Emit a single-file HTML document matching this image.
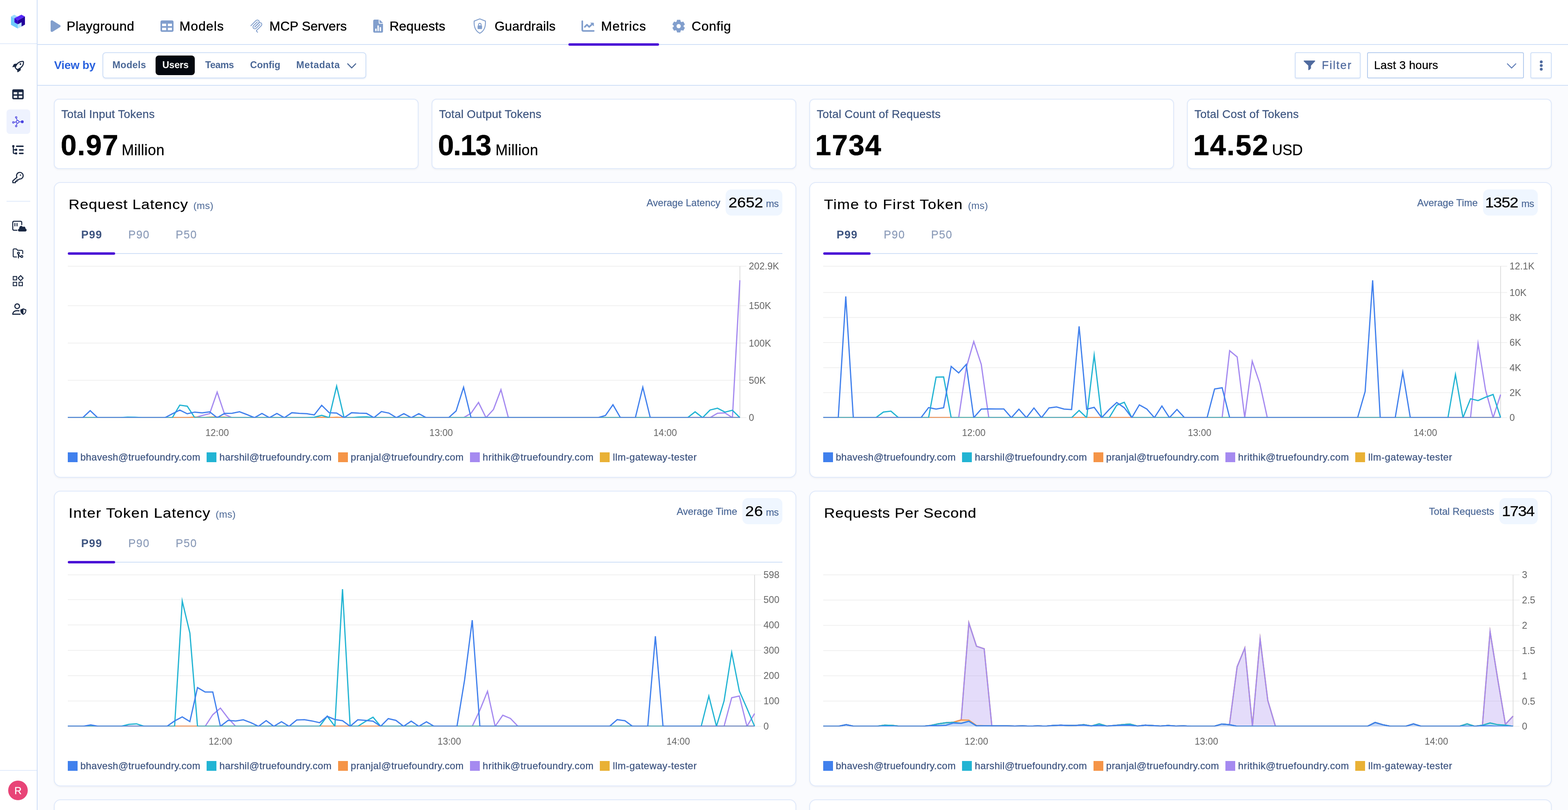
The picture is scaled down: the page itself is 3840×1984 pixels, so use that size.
<!DOCTYPE html><html lang="en"><head><meta charset="utf-8"><title>Metrics</title><style>
*{box-sizing:border-box;margin:0;padding:0}
html,body{width:3840px;height:1984px;overflow:hidden;background:#fff}
body{font-family:"Liberation Sans",sans-serif;position:relative;-webkit-font-smoothing:antialiased}
.t{position:absolute;line-height:1;white-space:pre}
.b{position:absolute}
.m{-webkit-text-stroke:0.3px currentColor}
.card{position:absolute;background:#fff;border:2px solid #dfe9fb;box-shadow:0 2px 5px rgba(0,0,0,.045),0 0 3px rgba(0,0,0,.02)}
svg{position:absolute;overflow:visible}
svg text{font-family:"Liberation Sans",sans-serif}
</style></head><body>
<div class="b" style="left:92px;top:210px;width:3748px;height:1774px;background:#fafbfe"></div>
<div class="b" style="left:0px;top:0px;width:90px;height:1984px;background:#fff"></div>
<div class="b" style="left:90px;top:0px;width:2px;height:1984px;background:#cfdff7"></div>
<div class="b" style="left:0px;top:106px;width:90px;height:2px;background:#e1ebfb"></div>
<div class="b" style="left:0px;top:1886px;width:90px;height:2px;background:#e1ebfb"></div>
<div class="b" style="left:16px;top:491.5px;width:58px;height:2px;background:#e1ebfb"></div>
<div class="b" style="left:92px;top:108px;width:3748px;height:2px;background:#cfdff7"></div>
<div class="b" style="left:92px;top:208px;width:3748px;height:2px;background:#cfdff7"></div>
<svg style="left:0;top:0" width="3840" height="1984" viewBox="0 0 3840 1984"><polygon points="26.9,40.4 34.9,35.9 43.0,40.4 35.3,44.8" fill="#9edcfc"/><polygon points="26.9,40.4 35.3,44.8 35.3,54.7 43.7,59.6 43.7,70.1 26.9,60.7" fill="#6ecbfb"/><polygon points="43.7,59.6 52.8,54.6 52.8,64.9 43.7,70.1" fill="#b8e4fd"/><polygon points="35.3,44.6 52.4,35.9 61.1,40.4 43.7,50.2" fill="#5528f8"/><polygon points="35.3,44.6 43.7,50.2 43.7,59.6 35.3,54.7" fill="#2a00c8"/><polygon points="43.7,50.2 61.1,40.4 61.1,60.3 52.8,64.9 52.8,54.6 43.7,59.6" fill="#21009a"/></svg>
<div class="b" style="left:16px;top:268px;width:58px;height:60px;background:#eef2fe;border-radius:8px"></div>
<svg style="left:0;top:0" width="3840" height="1984" viewBox="0 0 3840 1984"><path d="M30,164.4 L33.3,158.2 Q34.4,156.4 36.6,156.2 L42.2,155.8 L38.3,163.8 Z" fill="#1a2842"/><path d="M42.3,171 L50.4,165.4 L50.8,170.6 Q50.8,172 49.8,172.8 L44.2,176.8 Q42.6,177.4 42.3,175.6 Z" fill="#1a2842"/><path d="M37.3,165.6 C40,156.800 46,150.900 55.3,150.300 Q57.500,150.200 57.500,152.400 C57.600,160.200 52,166.600 41.800,170.600 Z" fill="#fff" stroke="#1a2842" stroke-width="2.6" stroke-linejoin="round"/><circle cx="50" cy="156.9" r="2.1" fill="#1a2842"/></svg>
<svg style="left:0;top:0" width="3840" height="1984" viewBox="0 0 3840 1984"><path transform="translate(30,217) scale(0.0546875)" fill-rule="evenodd" fill="#1a2842" d="M64 32H448a64 64 0 0 1 64 64V416a64 64 0 0 1-64 64H64a64 64 0 0 1-64-64V96A64 64 0 0 1 64 32ZM64 160V256H224V160ZM288 160V256H448V160ZM64 320V416H224V320ZM288 320V416H448V320Z"/></svg>
<svg style="left:0;top:0" width="3840" height="1984" viewBox="0 0 3840 1984"><g stroke="#4a43e0" stroke-width="1.7" fill="none" stroke-linecap="round"><line x1="40.3" y1="289.6" x2="41.9" y2="294.6"/><line x1="34.8" y1="299.4" x2="39.2" y2="298.8"/><line x1="40.4" y1="306.6" x2="41.8" y2="302.2"/><line x1="47" y1="298.3" x2="52" y2="298.3"/></g><circle cx="43.1" cy="298.3" r="3.4" fill="none" stroke="#4a43e0" stroke-width="1.8"/><circle cx="39.6" cy="287.4" r="1.9" fill="none" stroke="#4a43e0" stroke-width="1.6"/><circle cx="32.6" cy="299.7" r="1.9" fill="none" stroke="#4a43e0" stroke-width="1.6"/><circle cx="39.6" cy="308.7" r="1.9" fill="none" stroke="#4a43e0" stroke-width="1.6"/><circle cx="54.5" cy="298.2" r="3.5" fill="#4a43e0"/></svg>
<svg style="left:0;top:0" width="3840" height="1984" viewBox="0 0 3840 1984"><rect x="30" y="355.5" width="5.3" height="5.3" rx="1.3" fill="#1a2842"/><rect x="39.1" y="356.5" width="18.9" height="3.5" rx="1.75" fill="#1a2842"/><rect x="37" y="364.2" width="5.1" height="5.3" rx="1.3" fill="#1a2842"/><rect x="46.1" y="365.4" width="11.9" height="3.5" rx="1.75" fill="#1a2842"/><rect x="37" y="373.2" width="5.1" height="5.1" rx="1.3" fill="#1a2842"/><rect x="46.1" y="374" width="11.9" height="3.5" rx="1.75" fill="#1a2842"/><path d="M32.65,359 V373.6 Q32.65,375.8 34.9,375.8 H38 M32.65,366.9 H38" fill="none" stroke="#1a2842" stroke-width="2.7"/></svg>
<svg style="left:0;top:0" width="3840" height="1984" viewBox="0 0 3840 1984"><path d="M41.45,434.20 A8.1,8.1 0 1 1 47.47,438.42 L45.2,440.7 L41.6,440.7 L41.6,444.2 L37.8,444.2 L37.8,447.5 L31.4,447.5 L31.4,442.9 Z" fill="none" stroke="#1a2842" stroke-width="2.6" stroke-linejoin="round"/><circle cx="50.1" cy="428.9" r="1.7" fill="#1a2842"/></svg>
<svg style="left:0;top:0" width="3840" height="1984" viewBox="0 0 3840 1984"><path d="M42.5,564 H34.4 Q31.25,564 31.25,560.8 V545.1 Q31.25,541.95 34.4,541.95 H50.1 Q53.25,541.95 53.25,545.1 V551.2" fill="none" stroke="#1a2842" stroke-width="2.5"/><rect x="35.3" y="546" width="2.4" height="8.4" rx="1.2" fill="#1a2842"/><rect x="40.5" y="546" width="2.4" height="8.4" rx="1.2" fill="#1a2842"/><path d="M47.4,567 C45.3,567 44,565.5 44,563.7 C44,561.9 45.2,560.6 46.9,560.3 C46.9,556.5 48.9,553.3 51.8,553.3 C53.6,553.3 55.1,554.3 56,555.9 C56.7,555.3 57.6,555 58.5,555 C60.6,555 62.3,556.7 62.3,558.8 C62.3,559.1 62.3,559.4 62.2,559.7 C64,560.3 65.2,561.8 65.2,563.6 C65.2,565.5 63.7,567 61.8,567 Z" fill="#1a2842"/></svg>
<svg style="left:0;top:0" width="3840" height="1984" viewBox="0 0 3840 1984"><g transform="translate(30,606.1) scale(1.1667)" fill="none" stroke="#1a2842" stroke-width="2" stroke-linecap="round" stroke-linejoin="round"><path d="M9 20H4a2 2 0 0 1-2-2V5a2 2 0 0 1 2-2h3.900a2 2 0 0 1 1.690.900l.810 1.200a2 2 0 0 0 1.670.900H20a2 2 0 0 1 2 2v5"/><circle cx="13" cy="12" r="2"/><path d="M18 19c-2.800 0-5-2.200-5-5v8"/><circle cx="20" cy="19" r="2"/></g></svg>
<svg style="left:0;top:0" width="3840" height="1984" viewBox="0 0 3840 1984"><rect x="32.4" y="677.2" width="8.399999999999999" height="8.399999999999999" fill="none" stroke="#1a2842" stroke-width="2.2"/><rect x="32.4" y="691.4" width="8.399999999999999" height="8.399999999999999" fill="none" stroke="#1a2842" stroke-width="2.2"/><rect x="46.5" y="691.4" width="8.399999999999999" height="8.399999999999999" fill="none" stroke="#1a2842" stroke-width="2.2"/><path d="M50.5,675.2 L56.5,681.3 L50.5,687.4 L44.4,681.3 Z" fill="none" stroke="#1a2842" stroke-width="2.4" stroke-linejoin="miter"/></svg>
<svg style="left:0;top:0" width="3840" height="1984" viewBox="0 0 3840 1984"><circle cx="42.1" cy="750.1" r="5.7" fill="none" stroke="#1a2842" stroke-width="2.7"/><path d="M47.6,761.6 C46,761 44.2,760.8 42,760.8 C35.6,760.8 31.6,764.4 31.2,769.7 H50.2" fill="none" stroke="#1a2842" stroke-width="2.7" stroke-linejoin="round"/><path d="M57.1,755.2 L64.4,758.3 C64.9,764.6 62.4,768.9 57.1,771.2 C51.8,768.9 49.3,764.6 49.8,758.3 Z" fill="#1a2842"/><path d="M57.3,758 L62.2,760.1 C62.3,763.8 60.6,766.6 57.3,768.4 Z" fill="#fff"/></svg>
<div class="b" style="left:20px;top:1912px;width:48px;height:48px;background:#e84477;border-radius:50%"></div>
<div class="t" style="left:44.0px;top:1924.6px;font-size:24.5px;color:#fff;transform:translateX(-50%);-webkit-text-stroke:0.4px #fff;">R</div>
<svg style="left:0;top:0" width="3840" height="1984" viewBox="0 0 3840 1984"><path transform="translate(124,47.8) scale(0.0633)" fill="#829fcd" d="M73 39c-14.800-9.100-33.400-9.400-48.500-.9S0 62.600 0 80V432c0 17.400 9.400 33.400 24.500 41.900s33.700 8.100 48.500-.9L361 297c14.300-8.700 23-24.200 23-41s-8.700-32.200-23-41L73 39z"/></svg>
<div class="t" style="left:163.2px;top:47.9px;font-size:32px;color:#000;letter-spacing:0.38px;-webkit-text-stroke:0.45px #000;">Playground</div>
<svg style="left:0;top:0" width="3840" height="1984" viewBox="0 0 3840 1984"><path transform="translate(393,48) scale(0.0625)" fill-rule="evenodd" fill="#829fcd" d="M64 32H448a64 64 0 0 1 64 64V416a64 64 0 0 1-64 64H64a64 64 0 0 1-64-64V96A64 64 0 0 1 64 32ZM64 160V256H224V160ZM288 160V256H448V160ZM64 320V416H224V320ZM288 320V416H448V320Z"/></svg>
<div class="t" style="left:439.6px;top:47.9px;font-size:32px;color:#000;letter-spacing:1.0px;-webkit-text-stroke:0.45px #000;">Models</div>
<svg style="left:0;top:0" width="3840" height="1984" viewBox="0 0 3840 1984"><g transform="translate(609.75,44.7) scale(0.1866)" fill="none" stroke="#829fcd" stroke-width="11.5" stroke-linecap="round"><path d="M25 97.8528L92.8823 29.9706C102.255 20.598 117.451 20.598 126.823 29.9706C136.196 39.3431 136.196 54.5391 126.823 63.9117L75.5581 115.177"/><path d="M76.2653 114.47L126.823 63.9117C136.196 54.5391 151.392 54.5391 160.765 63.9117L161.118 64.2652C170.491 73.6378 170.491 88.8338 161.118 98.2063L99.7248 159.6C96.6006 162.724 96.6006 167.789 99.7248 170.913L112.331 183.52"/><path d="M109.853 46.9411L59.6482 97.1457C50.2757 106.518 50.2757 121.714 59.6482 131.087C69.0208 140.459 84.2168 140.459 93.5894 131.087L143.794 80.8822"/></g></svg>
<div class="t" style="left:659.8px;top:47.9px;font-size:32px;color:#000;letter-spacing:-0.02px;-webkit-text-stroke:0.45px #000;">MCP Servers</div>
<svg style="left:0;top:0" width="3840" height="1984" viewBox="0 0 3840 1984"><path d="M917.5,47.9 H927.5 V55.400 Q927.5,58.300 930.400,58.300 H938 V76.400 Q938,79.900 934.500,79.900 H917.500 Q914,79.900 914,76.400 V51.400 Q914,47.900 917.5,47.900 Z" fill="#829fcd"/><path d="M929.500,47.900 L938,56.300 H931 Q929.500,56.300 929.500,54.800 Z" fill="#829fcd"/><rect x="918.9" y="69.8" width="3.4" height="6.6" rx="1.5" fill="#fff"/><rect x="924.3" y="62.1" width="3.4" height="14.3" rx="1.5" fill="#fff"/><rect x="929.8" y="66.3" width="3.4" height="10.1" rx="1.5" fill="#fff"/></svg>
<div class="t" style="left:953.9px;top:47.9px;font-size:32px;color:#000;letter-spacing:0.22px;-webkit-text-stroke:0.45px #000;">Requests</div>
<svg style="left:0;top:0" width="3840" height="1984" viewBox="0 0 3840 1984"><path d="M1175,46.300 L1188.800,51.600 C1189.600,65.200 1185.300,76.200 1175,81.500 C1164.700,76.200 1160.400,65.200 1161.200,51.600 Z" fill="none" stroke="#829fcd" stroke-width="2.3" stroke-linejoin="round"/><rect x="1169.6" y="62.3" width="11" height="9" rx="1.5" fill="#829fcd"/><path d="M1171.900,62.800 V60.400 A3.200,3.200 0 0 1 1178.300,60.400 V62.800" fill="none" stroke="#829fcd" stroke-width="2.2"/></svg>
<div class="t" style="left:1211.2px;top:47.9px;font-size:32px;color:#000;letter-spacing:0.2px;-webkit-text-stroke:0.45px #000;">Guardrails</div>
<svg style="left:0;top:0" width="3840" height="1984" viewBox="0 0 3840 1984"><path d="M1426,52 V72.800 Q1426,75.800 1429,75.800 H1454" fill="none" stroke="#829fcd" stroke-width="4" stroke-linecap="round"/><path d="M1432.200,65.800 L1437.600,60.600 L1442.800,65.900 L1450,59.200" fill="none" stroke="#829fcd" stroke-width="4.1" stroke-linecap="round" stroke-linejoin="round"/><path d="M1446,56 H1453 Q1454,56 1454,57 V64 Z" fill="#829fcd" stroke="#829fcd" stroke-width="0.800" stroke-linejoin="round"/></svg>
<div class="t" style="left:1472.0px;top:47.9px;font-size:32px;color:#000;letter-spacing:1.1px;-webkit-text-stroke:0.45px #000;">Metrics</div>
<svg style="left:0;top:0" width="3840" height="1984" viewBox="0 0 3840 1984"><path d="M1658.35,53.41 L1658.72,49.77 L1665.28,49.77 L1665.65,53.41 L1669.35,55.55 L1672.68,54.04 L1675.96,59.73 L1672.99,61.86 L1672.99,66.14 L1675.96,68.27 L1672.68,73.96 L1669.35,72.45 L1665.65,74.59 L1665.28,78.23 L1658.72,78.23 L1658.35,74.59 L1654.65,72.45 L1651.32,73.96 L1648.04,68.27 L1651.01,66.14 L1651.01,61.86 L1648.04,59.73 L1651.32,54.04 L1654.65,55.55Z M1655.6,64 a6.4,6.4 0 1 0 12.8,0 a6.4,6.4 0 1 0 -12.8,0Z" fill="#829fcd" fill-rule="evenodd" stroke="#829fcd" stroke-width="2.400" stroke-linejoin="round"/></svg>
<div class="t" style="left:1693.8px;top:47.9px;font-size:32px;color:#000;letter-spacing:0.75px;-webkit-text-stroke:0.45px #000;">Config</div>
<div class="b" style="left:1392px;top:106px;width:222px;height:6px;background:#4a0fd6;border-radius:3px"></div>
<div class="t" style="left:132.4px;top:145.9px;font-size:28px;color:#2a62de;font-weight:700;letter-spacing:-0.33px;">View by</div>
<div class="b" style="left:251px;top:128px;width:646px;height:64px;background:#fff;border:2px solid #cfdff7;border-radius:8px;box-shadow:0 2px 3px rgba(150,180,230,.2)"></div>
<div class="b" style="left:381px;top:136px;width:96px;height:48px;background:#04080f;border-radius:8px"></div>
<div class="t" style="left:275.2px;top:148.4px;font-size:23.4px;color:#4a6796;font-weight:700;letter-spacing:0.35px;">Models</div>
<div class="t" style="left:397.6px;top:148.4px;font-size:23.4px;color:#fff;font-weight:700;letter-spacing:-0.15px;">Users</div>
<div class="t" style="left:502.6px;top:148.4px;font-size:23.4px;color:#4a6796;font-weight:700;letter-spacing:-0.5px;">Teams</div>
<div class="t" style="left:612.6px;top:148.4px;font-size:23.4px;color:#4a6796;font-weight:700;">Config</div>
<div class="t" style="left:725.4px;top:148.4px;font-size:23.4px;color:#4a6796;font-weight:700;letter-spacing:0.75px;">Metadata</div>
<svg style="left:0;top:0" width="3840" height="1984" viewBox="0 0 3840 1984"><path d="M851.6,156.3 L861.3,166.300 L871,156.3" fill="none" stroke="#4a6796" stroke-width="2.600" stroke-linecap="round" stroke-linejoin="round"/></svg>
<div class="b" style="left:3171px;top:128px;width:161px;height:64px;background:#fff;border:2px solid #cfdff7;border-radius:4px;box-shadow:0 2px 3px rgba(150,180,230,.2)"></div>
<svg style="left:0;top:0" width="3840" height="1984" viewBox="0 0 3840 1984"><path d="M3194.200,148.200 H3219.300 Q3221.800,148.200 3220.300,150.500 L3210.600,160.800 V166.400 Q3210.600,167.800 3209.500,168.500 L3206.200,171.400 Q3204,172.600 3204,170.600 V160.800 L3193.200,150.500 Q3191.700,148.200 3194.200,148.200 Z" fill="#4f6a9e"/></svg>
<div class="t" style="left:3237.0px;top:145.6px;font-size:28px;color:#4f6a9e;letter-spacing:2.0px;-webkit-text-stroke:0.3px #4f6a9e;">Filter</div>
<div class="b" style="left:3348px;top:128px;width:384px;height:64px;background:#fff;border:2px solid #b4ccee;border-radius:4px"></div>
<div class="t" style="left:3365.0px;top:145.6px;font-size:28px;color:#000;letter-spacing:0.245px;-webkit-text-stroke:0.4px #000;">Last 3 hours</div>
<svg style="left:0;top:0" width="3840" height="1984" viewBox="0 0 3840 1984"><path d="M3691.600,156.300 L3701.900,166.600 L3712.200,156.300" fill="none" stroke="#5b7ab5" stroke-width="2.300" stroke-linecap="round" stroke-linejoin="round"/></svg>
<div class="b" style="left:3748px;top:128px;width:52px;height:64px;background:#fff;border:2px solid #cfdff7;border-radius:4px;box-shadow:0 2px 3px rgba(150,180,230,.2)"></div>
<div class="b" style="left:3770.5px;top:147.5px;width:7px;height:7px;background:#4f6a9e;border-radius:50%"></div>
<div class="b" style="left:3770.5px;top:156.9px;width:7px;height:7px;background:#4f6a9e;border-radius:50%"></div>
<div class="b" style="left:3770.5px;top:166.3px;width:7px;height:7px;background:#4f6a9e;border-radius:50%"></div>
<div class="card" style="left:132px;top:242px;width:893px;height:172px;border-radius:12px"></div>
<div class="t" style="left:150.2px;top:265.6px;font-size:28px;color:#3e5680;letter-spacing:0.2px;-webkit-text-stroke:0.3px #3e5680;">Total Input Tokens</div>
<div class="t" style="left:148.7px;top:320.9px;font-size:70px;color:#000;font-weight:700;letter-spacing:1.57px;-webkit-text-stroke:0.6px #000;">0.97</div>
<div class="t" style="left:298.0px;top:349.7px;font-size:36px;color:#000;letter-spacing:0.4px;-webkit-text-stroke:0.3px #000;">Million</div>
<div class="card" style="left:1057px;top:242px;width:893px;height:172px;border-radius:12px"></div>
<div class="t" style="left:1075.2px;top:265.6px;font-size:28px;color:#3e5680;letter-spacing:0.2px;-webkit-text-stroke:0.3px #3e5680;">Total Output Tokens</div>
<div class="t" style="left:1072.8px;top:320.9px;font-size:70px;color:#000;font-weight:700;letter-spacing:-1.77px;-webkit-text-stroke:0.6px #000;">0.13</div>
<div class="t" style="left:1213.4px;top:349.7px;font-size:36px;color:#000;letter-spacing:0.4px;-webkit-text-stroke:0.3px #000;">Million</div>
<div class="card" style="left:1982px;top:242px;width:893px;height:172px;border-radius:12px"></div>
<div class="t" style="left:2000.2px;top:265.6px;font-size:28px;color:#3e5680;letter-spacing:0.2px;-webkit-text-stroke:0.3px #3e5680;">Total Count of Requests</div>
<div class="t" style="left:1996.5px;top:320.9px;font-size:70px;color:#000;font-weight:700;letter-spacing:1.83px;-webkit-text-stroke:0.6px #000;">1734</div>
<div class="card" style="left:2907px;top:242px;width:893px;height:172px;border-radius:12px"></div>
<div class="t" style="left:2925.2px;top:265.6px;font-size:28px;color:#3e5680;letter-spacing:0.2px;-webkit-text-stroke:0.3px #3e5680;">Total Cost of Tokens</div>
<div class="t" style="left:2922.2px;top:320.9px;font-size:70px;color:#000;font-weight:700;letter-spacing:2.1px;-webkit-text-stroke:0.6px #000;">14.52</div>
<div class="t" style="left:3115.0px;top:349.7px;font-size:36px;color:#000;letter-spacing:-0.2px;-webkit-text-stroke:0.3px #000;">USD</div>
<div class="card" style="left:132px;top:446px;width:1818px;height:724px;border-radius:16px"></div><div class="t" style="left:168px;top:483.2px;font-size:34px;color:#000;letter-spacing:0.91px;-webkit-text-stroke:0.25px #000;transform:scaleX(1.09);transform-origin:0 0">Request Latency</div><div class="t" style="left:473.5px;top:491.7px;font-size:24px;color:#4a6796;letter-spacing:0.3px;">(ms)</div><div class="b" style="left:1777px;top:464.3px;width:139px;height:63.4px;background:#eff6ff;border-radius:14px"></div><div class="t m" style="left:1783.6px;top:477.9px;font-size:35px;color:#000;letter-spacing:-0.2px;transform:scaleX(1.1);transform-origin:0 0">2652</div><div class="t" style="left:1875.7px;top:487.2px;font-size:24px;color:#4a6796;letter-spacing:-0.4px;-webkit-text-stroke:0.25px #4a6796;">ms</div><div class="t m" style="right:2076px;top:485.4px;font-size:24px;color:#4a6796;letter-spacing:0.05px">Average Latency</div><div class="b" style="left:166px;top:620px;width:1750px;height:2px;background:#cfdff7"></div><div class="b" style="left:166px;top:618px;width:116px;height:6px;background:#4a0fd6;border-radius:3px"></div><div class="t" style="left:224.6px;top:562.1px;font-size:27px;color:#3d5480;font-weight:700;letter-spacing:1.2px;transform:translateX(-50%);">P99</div><div class="t" style="left:340.6px;top:562.1px;font-size:27px;color:#8c9cb9;letter-spacing:1.5px;transform:translateX(-50%);-webkit-text-stroke:0.3px #8c9cb9;">P90</div><div class="t" style="left:456.6px;top:562.1px;font-size:27px;color:#8c9cb9;letter-spacing:1.5px;transform:translateX(-50%);-webkit-text-stroke:0.3px #8c9cb9;">P50</div><svg style="left:132px;top:447px" width="1818" height="722" viewBox="0 0 1818 722"><line x1="34.0" y1="576.0" x2="1696.0" y2="576.0" stroke="#f0f0f0" stroke-width="2"/><line x1="34.0" y1="484.6" x2="1696.0" y2="484.6" stroke="#f0f0f0" stroke-width="2"/><line x1="34.0" y1="393.2" x2="1696.0" y2="393.2" stroke="#f0f0f0" stroke-width="2"/><line x1="34.0" y1="301.7" x2="1696.0" y2="301.7" stroke="#f0f0f0" stroke-width="2"/><line x1="34.0" y1="205.0" x2="1696.0" y2="205.0" stroke="#f0f0f0" stroke-width="2"/><line x1="1680.0" y1="205.0" x2="1680.0" y2="576.0" stroke="#dedede" stroke-width="2"/><text x="1701.8" y="584.3" font-size="23.4" fill="#666">0</text><text x="1701.8" y="492.9" font-size="23.4" fill="#666">50K</text><text x="1701.8" y="401.5" font-size="23.4" fill="#666">100K</text><text x="1701.8" y="310.0" font-size="23.4" fill="#666">150K</text><text x="1701.8" y="213.3" font-size="23.4" fill="#666">202.9K</text><text x="399.8" y="620.5" font-size="23" fill="#666" text-anchor="middle">12:00</text><text x="948.4" y="620.5" font-size="23" fill="#666" text-anchor="middle">13:00</text><text x="1497.1" y="620.5" font-size="23" fill="#666" text-anchor="middle">14:00</text><clipPath id="cp_c1"><rect x="32.0" y="201.0" width="1649.5" height="375.3"/></clipPath><g clip-path="url(#cp_c1)"><polyline points="34.0,576.0 52.3,576.0 70.6,576.0 88.9,576.0 107.2,576.0 125.4,576.0 143.7,576.0 162.0,576.0 180.3,576.0 198.6,576.0 216.9,576.0 235.2,576.0 253.5,576.0 271.8,576.0 290.0,576.0 308.3,576.0 326.6,576.0 344.9,576.0 363.2,576.0 381.5,576.0 399.8,576.0 418.1,576.0 436.4,576.0 454.6,576.0 472.9,576.0 491.2,576.0 509.5,576.0 527.8,576.0 546.1,576.0 564.4,576.0 582.7,576.0 601.0,576.0 619.2,576.0 637.5,576.0 655.8,576.0 674.1,576.0 692.4,576.0 710.7,576.0 729.0,576.0 747.3,576.0 765.6,576.0 783.8,576.0 802.1,576.0 820.4,576.0 838.7,576.0 857.0,576.0 875.3,576.0 893.6,576.0 911.9,576.0 930.2,576.0 948.4,576.0 966.7,576.0 985.0,576.0 1003.3,576.0 1021.6,576.0 1039.9,576.0 1058.2,576.0 1076.5,576.0 1094.8,576.0 1113.0,576.0 1131.3,576.0 1149.6,576.0 1167.9,576.0 1186.2,576.0 1204.5,576.0 1222.8,576.0 1241.1,576.0 1259.4,576.0 1277.6,576.0 1295.9,576.0 1314.2,576.0 1332.5,576.0 1350.8,576.0 1369.1,576.0 1387.4,576.0 1405.7,576.0 1424.0,576.0 1442.2,576.0 1460.5,576.0 1478.8,576.0 1497.1,576.0 1515.4,576.0 1533.7,576.0 1552.0,576.0 1570.3,576.0 1588.6,576.0 1606.8,576.0 1625.1,576.0 1643.4,576.0 1661.7,576.0 1680.0,576.0" fill="none" stroke="#e9b135" stroke-width="3" stroke-linejoin="miter" stroke-miterlimit="10"/><polyline points="34.0,576.0 52.3,576.0 70.6,576.0 88.9,576.0 107.2,576.0 125.4,576.0 143.7,576.0 162.0,576.0 180.3,576.0 198.6,576.0 216.9,576.0 235.2,576.0 253.5,576.0 271.8,576.0 290.0,576.0 308.3,576.0 326.6,576.0 344.9,576.0 363.2,570.8 381.5,566.1 399.8,513.5 418.1,568.0 436.4,576.0 454.6,576.0 472.9,576.0 491.2,576.0 509.5,576.0 527.8,576.0 546.1,576.0 564.4,576.0 582.7,576.0 601.0,576.0 619.2,576.0 637.5,576.0 655.8,576.0 674.1,576.0 692.4,576.0 710.7,576.0 729.0,576.0 747.3,576.0 765.6,576.0 783.8,576.0 802.1,576.0 820.4,576.0 838.7,576.0 857.0,576.0 875.3,576.0 893.6,576.0 911.9,576.0 930.2,576.0 948.4,576.0 966.7,576.0 985.0,576.0 1003.3,576.0 1021.6,565.2 1039.9,538.8 1058.2,576.0 1076.5,555.9 1094.8,507.4 1113.0,576.0 1131.3,576.0 1149.6,576.0 1167.9,576.0 1186.2,576.0 1204.5,576.0 1222.8,576.0 1241.1,576.0 1259.4,576.0 1277.6,576.0 1295.9,576.0 1314.2,576.0 1332.5,576.0 1350.8,576.0 1369.1,576.0 1387.4,576.0 1405.7,576.0 1424.0,576.0 1442.2,576.0 1460.5,576.0 1478.8,576.0 1497.1,576.0 1515.4,576.0 1533.7,576.0 1552.0,576.0 1570.3,576.0 1588.6,576.0 1606.8,576.0 1625.1,565.2 1643.4,564.3 1661.7,576.0 1680.0,239.3" fill="none" stroke="#a58af0" stroke-width="3" stroke-linejoin="miter" stroke-miterlimit="10"/><polyline points="34.0,576.0 52.3,576.0 70.6,576.0 88.9,576.0 107.2,576.0 125.4,576.0 143.7,576.0 162.0,576.0 180.3,576.0 198.6,576.0 216.9,576.0 235.2,576.0 253.5,576.0 271.8,576.0 290.0,576.0 308.3,576.0 326.6,576.0 344.9,574.5 363.2,576.0 381.5,574.8 399.8,574.5 418.1,574.8 436.4,576.0 454.6,576.0 472.9,576.0 491.2,576.0 509.5,576.0 527.8,576.0 546.1,576.0 564.4,576.0 582.7,576.0 601.0,576.0 619.2,576.0 637.5,576.0 655.8,575.0 674.1,576.0 692.4,575.0 710.7,576.0 729.0,576.0 747.3,575.0 765.6,574.8 783.8,576.0 802.1,576.0 820.4,576.0 838.7,576.0 857.0,576.0 875.3,576.0 893.6,576.0 911.9,576.0 930.2,576.0 948.4,576.0 966.7,576.0 985.0,576.0 1003.3,576.0 1021.6,576.0 1039.9,576.0 1058.2,576.0 1076.5,576.0 1094.8,576.0 1113.0,576.0 1131.3,576.0 1149.6,576.0 1167.9,576.0 1186.2,576.0 1204.5,576.0 1222.8,576.0 1241.1,576.0 1259.4,576.0 1277.6,576.0 1295.9,576.0 1314.2,576.0 1332.5,576.0 1350.8,576.0 1369.1,576.0 1387.4,576.0 1405.7,576.0 1424.0,576.0 1442.2,576.0 1460.5,576.0 1478.8,576.0 1497.1,576.0 1515.4,576.0 1533.7,576.0 1552.0,576.0 1570.3,576.0 1588.6,576.0 1606.8,576.0 1625.1,576.0 1643.4,576.0 1661.7,576.0 1680.0,576.0" fill="none" stroke="#f59447" stroke-width="3" stroke-linejoin="miter" stroke-miterlimit="10"/><polyline points="34.0,576.0 52.3,576.0 70.6,576.0 88.9,576.0 107.2,576.0 125.4,576.0 143.7,576.0 162.0,576.0 180.3,574.8 198.6,575.0 216.9,576.0 235.2,576.0 253.5,576.0 271.8,576.0 290.0,576.0 308.3,545.3 326.6,547.9 344.9,576.0 363.2,576.0 381.5,576.0 399.8,576.0 418.1,576.0 436.4,576.0 454.6,576.0 472.9,576.0 491.2,576.0 509.5,576.0 527.8,576.0 546.1,576.0 564.4,576.0 582.7,576.0 601.0,576.0 619.2,576.0 637.5,575.0 655.8,570.2 674.1,576.0 692.4,498.8 710.7,576.0 729.0,576.0 747.3,574.5 765.6,574.1 783.8,576.0 802.1,576.0 820.4,576.0 838.7,576.0 857.0,576.0 875.3,576.0 893.6,576.0 911.9,576.0 930.2,576.0 948.4,576.0 966.7,576.0 985.0,576.0 1003.3,576.0 1021.6,576.0 1039.9,576.0 1058.2,576.0 1076.5,576.0 1094.8,576.0 1113.0,576.0 1131.3,576.0 1149.6,576.0 1167.9,576.0 1186.2,576.0 1204.5,576.0 1222.8,576.0 1241.1,576.0 1259.4,576.0 1277.6,576.0 1295.9,576.0 1314.2,576.0 1332.5,576.0 1350.8,576.0 1369.1,576.0 1387.4,576.0 1405.7,576.0 1424.0,576.0 1442.2,576.0 1460.5,576.0 1478.8,576.0 1497.1,576.0 1515.4,576.0 1533.7,576.0 1552.0,576.0 1570.3,561.7 1588.6,576.0 1606.8,557.4 1625.1,552.9 1643.4,562.4 1661.7,557.9 1680.0,576.0" fill="none" stroke="#22b4d3" stroke-width="3" stroke-linejoin="miter" stroke-miterlimit="10"/><polyline points="34.0,576.0 52.3,576.0 70.6,576.0 88.9,558.9 107.2,576.0 125.4,576.0 143.7,576.0 162.0,576.0 180.3,576.0 198.6,576.0 216.9,576.0 235.2,576.0 253.5,576.0 271.8,576.0 290.0,566.7 308.3,557.4 326.6,566.5 344.9,562.4 363.2,564.3 381.5,561.8 399.8,576.0 418.1,565.6 436.4,565.2 454.6,561.5 472.9,568.5 491.2,576.0 509.5,565.8 527.8,576.0 546.1,565.8 564.4,576.0 582.7,563.9 601.0,565.6 619.2,566.3 637.5,569.3 655.8,545.8 674.1,563.9 692.4,564.8 710.7,576.0 729.0,563.9 747.3,565.0 765.6,565.6 783.8,576.0 802.1,561.1 820.4,564.8 838.7,576.0 857.0,566.3 875.3,576.0 893.6,566.3 911.9,576.0 930.2,576.0 948.4,576.0 966.7,576.0 985.0,559.6 1003.3,501.5 1021.6,576.0 1039.9,576.0 1058.2,576.0 1076.5,576.0 1094.8,576.0 1113.0,576.0 1131.3,576.0 1149.6,576.0 1167.9,576.0 1186.2,576.0 1204.5,576.0 1222.8,576.0 1241.1,576.0 1259.4,576.0 1277.6,576.0 1295.9,576.0 1314.2,576.0 1332.5,576.0 1350.8,570.6 1369.1,544.4 1387.4,576.0 1405.7,576.0 1424.0,576.0 1442.2,501.5 1460.5,576.0 1478.8,576.0 1497.1,576.0 1515.4,576.0 1533.7,576.0 1552.0,576.0 1570.3,576.0 1588.6,576.0 1606.8,576.0 1625.1,576.0 1643.4,576.0 1661.7,576.0 1680.0,576.0" fill="none" stroke="#4080ed" stroke-width="3" stroke-linejoin="miter" stroke-miterlimit="10"/></g></svg><div class="b" style="left:166px;top:1108px;width:24px;height:24px;background:#4080ed"></div><div class="t" style="left:196.7px;top:1108.3px;font-size:24px;color:#3d5480;letter-spacing:0.32px;-webkit-text-stroke:0.35px #3d5480;">bhavesh@truefoundry.com</div><div class="b" style="left:506px;top:1108px;width:24px;height:24px;background:#22b4d3"></div><div class="t" style="left:537.3px;top:1108.3px;font-size:24px;color:#3d5480;letter-spacing:0.35px;-webkit-text-stroke:0.35px #3d5480;">harshil@truefoundry.com</div><div class="b" style="left:828px;top:1108px;width:24px;height:24px;background:#f59447"></div><div class="t" style="left:858.7px;top:1108.3px;font-size:24px;color:#3d5480;letter-spacing:0.39px;-webkit-text-stroke:0.35px #3d5480;">pranjal@truefoundry.com</div><div class="b" style="left:1151px;top:1108px;width:24px;height:24px;background:#a58af0"></div><div class="t" style="left:1182.1px;top:1108.3px;font-size:24px;color:#3d5480;letter-spacing:0.52px;-webkit-text-stroke:0.35px #3d5480;">hrithik@truefoundry.com</div><div class="b" style="left:1469px;top:1108px;width:24px;height:24px;background:#e9b135"></div><div class="t" style="left:1500.7px;top:1108.3px;font-size:24px;color:#3d5480;letter-spacing:0.56px;-webkit-text-stroke:0.35px #3d5480;">llm-gateway-tester</div>
<div class="card" style="left:1982px;top:446px;width:1818px;height:724px;border-radius:16px"></div><div class="t" style="left:2018px;top:483.2px;font-size:34px;color:#000;letter-spacing:1.32px;-webkit-text-stroke:0.25px #000;transform:scaleX(1.09);transform-origin:0 0">Time to First Token</div><div class="t" style="left:2370.5px;top:491.7px;font-size:24px;color:#4a6796;letter-spacing:0.3px;">(ms)</div><div class="b" style="left:3632px;top:464.3px;width:134px;height:63.4px;background:#eff6ff;border-radius:14px"></div><div class="t m" style="left:3637.3px;top:477.9px;font-size:35px;color:#000;letter-spacing:-1.2px;transform:scaleX(1.1);transform-origin:0 0">1352</div><div class="t" style="left:3725.7px;top:487.2px;font-size:24px;color:#4a6796;letter-spacing:-0.4px;-webkit-text-stroke:0.25px #4a6796;">ms</div><div class="t m" style="right:221px;top:485.4px;font-size:24px;color:#4a6796;letter-spacing:0.05px">Average Time</div><div class="b" style="left:2016px;top:620px;width:1750px;height:2px;background:#cfdff7"></div><div class="b" style="left:2016px;top:618px;width:116px;height:6px;background:#4a0fd6;border-radius:3px"></div><div class="t" style="left:2074.6px;top:562.1px;font-size:27px;color:#3d5480;font-weight:700;letter-spacing:1.2px;transform:translateX(-50%);">P99</div><div class="t" style="left:2190.6px;top:562.1px;font-size:27px;color:#8c9cb9;letter-spacing:1.5px;transform:translateX(-50%);-webkit-text-stroke:0.3px #8c9cb9;">P90</div><div class="t" style="left:2306.6px;top:562.1px;font-size:27px;color:#8c9cb9;letter-spacing:1.5px;transform:translateX(-50%);-webkit-text-stroke:0.3px #8c9cb9;">P50</div><svg style="left:1982px;top:447px" width="1818" height="722" viewBox="0 0 1818 722"><line x1="34.0" y1="576.0" x2="1709.0" y2="576.0" stroke="#f0f0f0" stroke-width="2"/><line x1="34.0" y1="514.7" x2="1709.0" y2="514.7" stroke="#f0f0f0" stroke-width="2"/><line x1="34.0" y1="453.4" x2="1709.0" y2="453.4" stroke="#f0f0f0" stroke-width="2"/><line x1="34.0" y1="392.0" x2="1709.0" y2="392.0" stroke="#f0f0f0" stroke-width="2"/><line x1="34.0" y1="330.7" x2="1709.0" y2="330.7" stroke="#f0f0f0" stroke-width="2"/><line x1="34.0" y1="269.4" x2="1709.0" y2="269.4" stroke="#f0f0f0" stroke-width="2"/><line x1="34.0" y1="205.0" x2="1709.0" y2="205.0" stroke="#f0f0f0" stroke-width="2"/><line x1="1693.0" y1="205.0" x2="1693.0" y2="576.0" stroke="#dedede" stroke-width="2"/><text x="1714.8" y="584.3" font-size="23.4" fill="#666">0</text><text x="1714.8" y="523.0" font-size="23.4" fill="#666">2K</text><text x="1714.8" y="461.7" font-size="23.4" fill="#666">4K</text><text x="1714.8" y="400.3" font-size="23.4" fill="#666">6K</text><text x="1714.8" y="339.0" font-size="23.4" fill="#666">8K</text><text x="1714.8" y="277.7" font-size="23.4" fill="#666">10K</text><text x="1714.8" y="213.3" font-size="23.4" fill="#666">12.1K</text><text x="402.7" y="620.5" font-size="23" fill="#666" text-anchor="middle">12:00</text><text x="955.7" y="620.5" font-size="23" fill="#666" text-anchor="middle">13:00</text><text x="1508.7" y="620.5" font-size="23" fill="#666" text-anchor="middle">14:00</text><clipPath id="cp_c2"><rect x="32.0" y="201.0" width="1662.5" height="375.3"/></clipPath><g clip-path="url(#cp_c2)"><polyline points="34.0,576.0 52.4,576.0 70.9,576.0 89.3,576.0 107.7,576.0 126.2,576.0 144.6,576.0 163.0,576.0 181.5,576.0 199.9,576.0 218.3,576.0 236.8,576.0 255.2,576.0 273.6,576.0 292.1,576.0 310.5,576.0 328.9,576.0 347.4,576.0 365.8,576.0 384.2,576.0 402.7,576.0 421.1,576.0 439.5,576.0 458.0,576.0 476.4,576.0 494.8,576.0 513.3,576.0 531.7,576.0 550.1,576.0 568.6,576.0 587.0,576.0 605.4,576.0 623.9,576.0 642.3,576.0 660.7,576.0 679.2,576.0 697.6,576.0 716.0,576.0 734.5,576.0 752.9,576.0 771.3,576.0 789.8,576.0 808.2,576.0 826.6,576.0 845.1,576.0 863.5,576.0 881.9,576.0 900.4,576.0 918.8,576.0 937.2,576.0 955.7,576.0 974.1,576.0 992.5,576.0 1011.0,576.0 1029.4,576.0 1047.8,576.0 1066.3,576.0 1084.7,576.0 1103.1,576.0 1121.6,576.0 1140.0,576.0 1158.4,576.0 1176.9,576.0 1195.3,576.0 1213.7,576.0 1232.2,576.0 1250.6,576.0 1269.0,576.0 1287.5,576.0 1305.9,576.0 1324.3,576.0 1342.8,576.0 1361.2,576.0 1379.6,576.0 1398.1,576.0 1416.5,576.0 1434.9,576.0 1453.4,576.0 1471.8,576.0 1490.2,576.0 1508.7,576.0 1527.1,576.0 1545.5,576.0 1564.0,576.0 1582.4,576.0 1600.8,576.0 1619.3,576.0 1637.7,576.0 1656.1,576.0 1674.6,576.0 1693.0,576.0" fill="none" stroke="#e9b135" stroke-width="3" stroke-linejoin="miter" stroke-miterlimit="10"/><polyline points="34.0,576.0 52.4,576.0 70.9,576.0 89.3,576.0 107.7,576.0 126.2,576.0 144.6,576.0 163.0,576.0 181.5,576.0 199.9,576.0 218.3,576.0 236.8,576.0 255.2,576.0 273.6,576.0 292.1,576.0 310.5,576.0 328.9,576.0 347.4,576.0 365.8,576.0 384.2,454.0 402.7,389.7 421.1,445.5 439.5,576.0 458.0,576.0 476.4,576.0 494.8,576.0 513.3,576.0 531.7,576.0 550.1,576.0 568.6,576.0 587.0,576.0 605.4,576.0 623.9,576.0 642.3,576.0 660.7,576.0 679.2,576.0 697.6,576.0 716.0,576.0 734.5,576.0 752.9,576.0 771.3,576.0 789.8,576.0 808.2,576.0 826.6,576.0 845.1,576.0 863.5,576.0 881.9,576.0 900.4,576.0 918.8,576.0 937.2,576.0 955.7,576.0 974.1,576.0 992.5,576.0 1011.0,576.0 1029.4,412.0 1047.8,427.3 1066.3,576.0 1084.7,437.7 1103.1,491.6 1121.6,576.0 1140.0,576.0 1158.4,576.0 1176.9,576.0 1195.3,576.0 1213.7,576.0 1232.2,576.0 1250.6,576.0 1269.0,576.0 1287.5,576.0 1305.9,576.0 1324.3,576.0 1342.8,576.0 1361.2,576.0 1379.6,576.0 1398.1,576.0 1416.5,576.0 1434.9,576.0 1453.4,576.0 1471.8,576.0 1490.2,576.0 1508.7,576.0 1527.1,576.0 1545.5,576.0 1564.0,576.0 1582.4,576.0 1600.8,576.0 1619.3,576.0 1637.7,394.4 1656.1,508.4 1674.6,576.0 1693.0,519.5" fill="none" stroke="#a58af0" stroke-width="3" stroke-linejoin="miter" stroke-miterlimit="10"/><polyline points="34.0,576.0 52.4,576.0 70.9,576.0 89.3,576.0 107.7,576.0 126.2,576.0 144.6,576.0 163.0,576.0 181.5,576.0 199.9,576.0 218.3,576.0 236.8,576.0 255.2,576.0 273.6,576.0 292.1,576.0 310.5,576.0 328.9,576.0 347.4,576.0 365.8,576.0 384.2,576.0 402.7,576.0 421.1,576.0 439.5,576.0 458.0,576.0 476.4,576.0 494.8,576.0 513.3,576.0 531.7,576.0 550.1,576.0 568.6,576.0 587.0,576.0 605.4,576.0 623.9,576.0 642.3,576.0 660.7,576.0 679.2,576.0 697.6,576.0 716.0,576.0 734.5,576.0 752.9,576.0 771.3,576.0 789.8,576.0 808.2,576.0 826.6,576.0 845.1,576.0 863.5,576.0 881.9,576.0 900.4,576.0 918.8,576.0 937.2,576.0 955.7,576.0 974.1,576.0 992.5,576.0 1011.0,576.0 1029.4,576.0 1047.8,576.0 1066.3,576.0 1084.7,576.0 1103.1,576.0 1121.6,576.0 1140.0,576.0 1158.4,576.0 1176.9,576.0 1195.3,576.0 1213.7,576.0 1232.2,576.0 1250.6,576.0 1269.0,576.0 1287.5,576.0 1305.9,576.0 1324.3,576.0 1342.8,576.0 1361.2,576.0 1379.6,576.0 1398.1,576.0 1416.5,576.0 1434.9,576.0 1453.4,576.0 1471.8,576.0 1490.2,576.0 1508.7,576.0 1527.1,576.0 1545.5,576.0 1564.0,576.0 1582.4,576.0 1600.8,576.0 1619.3,576.0 1637.7,576.0 1656.1,576.0 1674.6,576.0 1693.0,576.0" fill="none" stroke="#f59447" stroke-width="3" stroke-linejoin="miter" stroke-miterlimit="10"/><polyline points="34.0,576.0 52.4,576.0 70.9,576.0 89.3,576.0 107.7,576.0 126.2,576.0 144.6,576.0 163.0,576.0 181.5,562.3 199.9,560.1 218.3,576.0 236.8,576.0 255.2,576.0 273.6,576.0 292.1,576.0 310.5,476.8 328.9,476.2 347.4,576.0 365.8,576.0 384.2,576.0 402.7,576.0 421.1,576.0 439.5,576.0 458.0,576.0 476.4,576.0 494.8,576.0 513.3,576.0 531.7,576.0 550.1,576.0 568.6,576.0 587.0,576.0 605.4,576.0 623.9,576.0 642.3,576.0 660.7,558.4 679.2,576.0 697.6,422.8 716.0,576.0 734.5,576.0 752.9,545.5 771.3,538.3 789.8,576.0 808.2,576.0 826.6,576.0 845.1,576.0 863.5,576.0 881.9,576.0 900.4,576.0 918.8,576.0 937.2,576.0 955.7,576.0 974.1,576.0 992.5,576.0 1011.0,576.0 1029.4,576.0 1047.8,576.0 1066.3,576.0 1084.7,576.0 1103.1,576.0 1121.6,576.0 1140.0,576.0 1158.4,576.0 1176.9,576.0 1195.3,576.0 1213.7,576.0 1232.2,576.0 1250.6,576.0 1269.0,576.0 1287.5,576.0 1305.9,576.0 1324.3,576.0 1342.8,576.0 1361.2,576.0 1379.6,576.0 1398.1,576.0 1416.5,576.0 1434.9,576.0 1453.4,576.0 1471.8,576.0 1490.2,576.0 1508.7,576.0 1527.1,576.0 1545.5,576.0 1564.0,576.0 1582.4,470.4 1600.8,576.0 1619.3,529.8 1637.7,534.1 1656.1,526.0 1674.6,519.3 1693.0,576.0" fill="none" stroke="#22b4d3" stroke-width="3" stroke-linejoin="miter" stroke-miterlimit="10"/><polyline points="34.0,576.0 52.4,576.0 70.9,576.0 89.3,279.2 107.7,576.0 126.2,576.0 144.6,576.0 163.0,576.0 181.5,576.0 199.9,576.0 218.3,576.0 236.8,576.0 255.2,576.0 273.6,576.0 292.1,551.3 310.5,555.0 328.9,551.7 347.4,450.6 365.8,466.4 384.2,445.6 402.7,576.0 421.1,555.0 439.5,554.5 458.0,554.8 476.4,554.8 494.8,576.0 513.3,555.2 531.7,576.0 550.1,552.4 568.6,576.0 587.0,552.2 605.4,549.7 623.9,555.0 642.3,556.2 660.7,352.4 679.2,555.3 697.6,550.8 716.0,576.0 734.5,555.9 752.9,538.9 771.3,551.7 789.8,576.0 808.2,544.7 826.6,555.0 845.1,576.0 863.5,547.5 881.9,576.0 900.4,556.0 918.8,576.0 937.2,576.0 955.7,576.0 974.1,576.0 992.5,505.8 1011.0,502.7 1029.4,576.0 1047.8,576.0 1066.3,576.0 1084.7,576.0 1103.1,576.0 1121.6,576.0 1140.0,576.0 1158.4,576.0 1176.9,576.0 1195.3,576.0 1213.7,576.0 1232.2,576.0 1250.6,576.0 1269.0,576.0 1287.5,576.0 1305.9,576.0 1324.3,576.0 1342.8,576.0 1361.2,512.0 1379.6,239.5 1398.1,576.0 1416.5,576.0 1434.9,576.0 1453.4,464.9 1471.8,576.0 1490.2,576.0 1508.7,576.0 1527.1,576.0 1545.5,576.0 1564.0,576.0 1582.4,576.0 1600.8,576.0 1619.3,576.0 1637.7,576.0 1656.1,576.0 1674.6,576.0 1693.0,576.0" fill="none" stroke="#4080ed" stroke-width="3" stroke-linejoin="miter" stroke-miterlimit="10"/></g></svg><div class="b" style="left:2016px;top:1108px;width:24px;height:24px;background:#4080ed"></div><div class="t" style="left:2046.7px;top:1108.3px;font-size:24px;color:#3d5480;letter-spacing:0.32px;-webkit-text-stroke:0.35px #3d5480;">bhavesh@truefoundry.com</div><div class="b" style="left:2356px;top:1108px;width:24px;height:24px;background:#22b4d3"></div><div class="t" style="left:2387.3px;top:1108.3px;font-size:24px;color:#3d5480;letter-spacing:0.35px;-webkit-text-stroke:0.35px #3d5480;">harshil@truefoundry.com</div><div class="b" style="left:2678px;top:1108px;width:24px;height:24px;background:#f59447"></div><div class="t" style="left:2708.7px;top:1108.3px;font-size:24px;color:#3d5480;letter-spacing:0.39px;-webkit-text-stroke:0.35px #3d5480;">pranjal@truefoundry.com</div><div class="b" style="left:3001px;top:1108px;width:24px;height:24px;background:#a58af0"></div><div class="t" style="left:3032.1px;top:1108.3px;font-size:24px;color:#3d5480;letter-spacing:0.52px;-webkit-text-stroke:0.35px #3d5480;">hrithik@truefoundry.com</div><div class="b" style="left:3319px;top:1108px;width:24px;height:24px;background:#e9b135"></div><div class="t" style="left:3350.7px;top:1108.3px;font-size:24px;color:#3d5480;letter-spacing:0.56px;-webkit-text-stroke:0.35px #3d5480;">llm-gateway-tester</div>
<div class="card" style="left:132px;top:1202px;width:1818px;height:724px;border-radius:16px"></div><div class="t" style="left:168px;top:1239.2px;font-size:34px;color:#000;letter-spacing:1.21px;-webkit-text-stroke:0.25px #000;transform:scaleX(1.09);transform-origin:0 0">Inter Token Latency</div><div class="t" style="left:528.1px;top:1247.7px;font-size:24px;color:#4a6796;letter-spacing:0.3px;">(ms)</div><div class="b" style="left:1818.4px;top:1220.3px;width:97.59999999999991px;height:63.4px;background:#eff6ff;border-radius:14px"></div><div class="t m" style="left:1825.3000000000002px;top:1233.9px;font-size:35px;color:#000;letter-spacing:0.6px;transform:scaleX(1.1);transform-origin:0 0">26</div><div class="t" style="left:1875.7px;top:1243.2px;font-size:24px;color:#4a6796;letter-spacing:-0.4px;-webkit-text-stroke:0.25px #4a6796;">ms</div><div class="t m" style="right:2034.6px;top:1241.4px;font-size:24px;color:#4a6796;letter-spacing:0.05px">Average Time</div><div class="b" style="left:166px;top:1376px;width:1750px;height:2px;background:#cfdff7"></div><div class="b" style="left:166px;top:1374px;width:116px;height:6px;background:#4a0fd6;border-radius:3px"></div><div class="t" style="left:224.6px;top:1318.1px;font-size:27px;color:#3d5480;font-weight:700;letter-spacing:1.2px;transform:translateX(-50%);">P99</div><div class="t" style="left:340.6px;top:1318.1px;font-size:27px;color:#8c9cb9;letter-spacing:1.5px;transform:translateX(-50%);-webkit-text-stroke:0.3px #8c9cb9;">P90</div><div class="t" style="left:456.6px;top:1318.1px;font-size:27px;color:#8c9cb9;letter-spacing:1.5px;transform:translateX(-50%);-webkit-text-stroke:0.3px #8c9cb9;">P50</div><svg style="left:132px;top:1203px" width="1818" height="722" viewBox="0 0 1818 722"><line x1="34.0" y1="576.0" x2="1732.0" y2="576.0" stroke="#f0f0f0" stroke-width="2"/><line x1="34.0" y1="514.0" x2="1732.0" y2="514.0" stroke="#f0f0f0" stroke-width="2"/><line x1="34.0" y1="451.9" x2="1732.0" y2="451.9" stroke="#f0f0f0" stroke-width="2"/><line x1="34.0" y1="389.9" x2="1732.0" y2="389.9" stroke="#f0f0f0" stroke-width="2"/><line x1="34.0" y1="327.8" x2="1732.0" y2="327.8" stroke="#f0f0f0" stroke-width="2"/><line x1="34.0" y1="265.8" x2="1732.0" y2="265.8" stroke="#f0f0f0" stroke-width="2"/><line x1="34.0" y1="205.0" x2="1732.0" y2="205.0" stroke="#f0f0f0" stroke-width="2"/><line x1="1716.0" y1="205.0" x2="1716.0" y2="576.0" stroke="#dedede" stroke-width="2"/><text x="1737.8" y="584.3" font-size="23.4" fill="#666">0</text><text x="1737.8" y="522.3" font-size="23.4" fill="#666">100</text><text x="1737.8" y="460.2" font-size="23.4" fill="#666">200</text><text x="1737.8" y="398.2" font-size="23.4" fill="#666">300</text><text x="1737.8" y="336.1" font-size="23.4" fill="#666">400</text><text x="1737.8" y="274.1" font-size="23.4" fill="#666">500</text><text x="1737.8" y="213.3" font-size="23.4" fill="#666">598</text><text x="407.8" y="620.5" font-size="23" fill="#666" text-anchor="middle">12:00</text><text x="968.4" y="620.5" font-size="23" fill="#666" text-anchor="middle">13:00</text><text x="1529.1" y="620.5" font-size="23" fill="#666" text-anchor="middle">14:00</text><clipPath id="cp_c3"><rect x="32.0" y="201.0" width="1685.5" height="375.3"/></clipPath><g clip-path="url(#cp_c3)"><polyline points="34.0,576.0 52.7,576.0 71.4,576.0 90.1,576.0 108.8,576.0 127.4,576.0 146.1,576.0 164.8,576.0 183.5,576.0 202.2,576.0 220.9,576.0 239.6,576.0 258.3,576.0 277.0,576.0 295.6,576.0 314.3,576.0 333.0,576.0 351.7,576.0 370.4,576.0 389.1,576.0 407.8,576.0 426.5,576.0 445.2,576.0 463.8,576.0 482.5,576.0 501.2,576.0 519.9,576.0 538.6,576.0 557.3,576.0 576.0,576.0 594.7,576.0 613.4,576.0 632.0,576.0 650.7,576.0 669.4,576.0 688.1,576.0 706.8,576.0 725.5,576.0 744.2,576.0 762.9,576.0 781.6,576.0 800.2,576.0 818.9,576.0 837.6,576.0 856.3,576.0 875.0,576.0 893.7,576.0 912.4,576.0 931.1,576.0 949.8,576.0 968.4,576.0 987.1,576.0 1005.8,576.0 1024.5,576.0 1043.2,576.0 1061.9,576.0 1080.6,576.0 1099.3,576.0 1118.0,576.0 1136.6,576.0 1155.3,576.0 1174.0,576.0 1192.7,576.0 1211.4,576.0 1230.1,576.0 1248.8,576.0 1267.5,576.0 1286.2,576.0 1304.8,576.0 1323.5,576.0 1342.2,576.0 1360.9,576.0 1379.6,576.0 1398.3,576.0 1417.0,576.0 1435.7,576.0 1454.4,576.0 1473.0,576.0 1491.7,576.0 1510.4,576.0 1529.1,576.0 1547.8,576.0 1566.5,576.0 1585.2,576.0 1603.9,576.0 1622.6,576.0 1641.2,576.0 1659.9,576.0 1678.6,576.0 1697.3,576.0 1716.0,576.0" fill="none" stroke="#e9b135" stroke-width="3" stroke-linejoin="miter" stroke-miterlimit="10"/><polyline points="34.0,576.0 52.7,576.0 71.4,576.0 90.1,576.0 108.8,576.0 127.4,576.0 146.1,576.0 164.8,576.0 183.5,576.0 202.2,576.0 220.9,576.0 239.6,576.0 258.3,576.0 277.0,576.0 295.6,576.0 314.3,576.0 333.0,576.0 351.7,576.0 370.4,576.0 389.1,547.5 407.8,531.4 426.5,556.0 445.2,576.0 463.8,576.0 482.5,576.0 501.2,576.0 519.9,576.0 538.6,576.0 557.3,576.0 576.0,576.0 594.7,576.0 613.4,576.0 632.0,576.0 650.7,576.0 669.4,576.0 688.1,576.0 706.8,576.0 725.5,576.0 744.2,576.0 762.9,576.0 781.6,576.0 800.2,576.0 818.9,576.0 837.6,576.0 856.3,576.0 875.0,576.0 893.7,576.0 912.4,576.0 931.1,576.0 949.8,576.0 968.4,576.0 987.1,576.0 1005.8,576.0 1024.5,576.0 1043.2,536.3 1061.9,490.3 1080.6,576.0 1099.3,548.9 1118.0,556.7 1136.6,576.0 1155.3,576.0 1174.0,576.0 1192.7,576.0 1211.4,576.0 1230.1,576.0 1248.8,576.0 1267.5,576.0 1286.2,576.0 1304.8,576.0 1323.5,576.0 1342.2,576.0 1360.9,576.0 1379.6,576.0 1398.3,576.0 1417.0,576.0 1435.7,576.0 1454.4,576.0 1473.0,576.0 1491.7,576.0 1510.4,576.0 1529.1,576.0 1547.8,576.0 1566.5,576.0 1585.2,576.0 1603.9,576.0 1622.6,576.0 1641.2,576.0 1659.9,506.1 1678.6,501.9 1697.3,576.0 1716.0,544.7" fill="none" stroke="#a58af0" stroke-width="3" stroke-linejoin="miter" stroke-miterlimit="10"/><polyline points="34.0,576.0 52.7,576.0 71.4,576.0 90.1,576.0 108.8,576.0 127.4,576.0 146.1,576.0 164.8,576.0 183.5,576.0 202.2,576.0 220.9,576.0 239.6,576.0 258.3,576.0 277.0,576.0 295.6,576.0 314.3,576.0 333.0,576.0 351.7,576.0 370.4,576.0 389.1,576.0 407.8,576.0 426.5,576.0 445.2,576.0 463.8,576.0 482.5,576.0 501.2,576.0 519.9,576.0 538.6,576.0 557.3,576.0 576.0,576.0 594.7,576.0 613.4,576.0 632.0,576.0 650.7,576.0 669.4,576.0 688.1,576.0 706.8,576.0 725.5,576.0 744.2,576.0 762.9,576.0 781.6,576.0 800.2,576.0 818.9,576.0 837.6,576.0 856.3,576.0 875.0,576.0 893.7,576.0 912.4,576.0 931.1,576.0 949.8,576.0 968.4,576.0 987.1,576.0 1005.8,576.0 1024.5,576.0 1043.2,576.0 1061.9,576.0 1080.6,576.0 1099.3,576.0 1118.0,576.0 1136.6,576.0 1155.3,576.0 1174.0,576.0 1192.7,576.0 1211.4,576.0 1230.1,576.0 1248.8,576.0 1267.5,576.0 1286.2,576.0 1304.8,576.0 1323.5,576.0 1342.2,576.0 1360.9,576.0 1379.6,576.0 1398.3,576.0 1417.0,576.0 1435.7,576.0 1454.4,576.0 1473.0,576.0 1491.7,576.0 1510.4,576.0 1529.1,576.0 1547.8,576.0 1566.5,576.0 1585.2,576.0 1603.9,576.0 1622.6,576.0 1641.2,576.0 1659.9,576.0 1678.6,576.0 1697.3,576.0 1716.0,576.0" fill="none" stroke="#f59447" stroke-width="3" stroke-linejoin="miter" stroke-miterlimit="10"/><polyline points="34.0,576.0 52.7,576.0 71.4,576.0 90.1,576.0 108.8,576.0 127.4,576.0 146.1,576.0 164.8,576.0 183.5,571.2 202.2,569.9 220.9,576.0 239.6,576.0 258.3,576.0 277.0,576.0 295.6,576.0 314.3,269.1 333.0,347.6 351.7,576.0 370.4,576.0 389.1,576.0 407.8,576.0 426.5,576.0 445.2,576.0 463.8,576.0 482.5,576.0 501.2,576.0 519.9,576.0 538.6,576.0 557.3,576.0 576.0,576.0 594.7,576.0 613.4,576.0 632.0,576.0 650.7,576.0 669.4,551.1 688.1,576.0 706.8,240.0 725.5,576.0 744.2,576.0 762.9,564.3 781.6,553.7 800.2,576.0 818.9,576.0 837.6,576.0 856.3,576.0 875.0,576.0 893.7,576.0 912.4,576.0 931.1,576.0 949.8,576.0 968.4,576.0 987.1,576.0 1005.8,576.0 1024.5,576.0 1043.2,576.0 1061.9,576.0 1080.6,576.0 1099.3,576.0 1118.0,576.0 1136.6,576.0 1155.3,576.0 1174.0,576.0 1192.7,576.0 1211.4,576.0 1230.1,576.0 1248.8,576.0 1267.5,576.0 1286.2,576.0 1304.8,576.0 1323.5,576.0 1342.2,576.0 1360.9,576.0 1379.6,576.0 1398.3,576.0 1417.0,576.0 1435.7,576.0 1454.4,576.0 1473.0,576.0 1491.7,576.0 1510.4,576.0 1529.1,576.0 1547.8,576.0 1566.5,576.0 1585.2,576.0 1603.9,501.8 1622.6,576.0 1641.2,514.0 1659.9,395.0 1678.6,489.6 1697.3,532.1 1716.0,576.0" fill="none" stroke="#22b4d3" stroke-width="3" stroke-linejoin="miter" stroke-miterlimit="10"/><polyline points="34.0,576.0 52.7,576.0 71.4,576.0 90.1,572.6 108.8,576.0 127.4,576.0 146.1,576.0 164.8,576.0 183.5,576.0 202.2,576.0 220.9,576.0 239.6,576.0 258.3,576.0 277.0,576.0 295.6,562.9 314.3,553.0 333.0,564.3 351.7,481.1 370.4,492.1 389.1,491.9 407.8,576.0 426.5,561.5 445.2,562.9 463.8,560.1 482.5,567.1 501.2,576.0 519.9,562.1 538.6,576.0 557.3,564.8 576.0,576.0 594.7,560.6 613.4,559.8 632.0,562.9 650.7,567.1 669.4,551.6 688.1,559.5 706.8,562.3 725.5,576.0 744.2,560.1 762.9,561.5 781.6,563.4 800.2,576.0 818.9,557.2 837.6,561.5 856.3,576.0 875.0,563.4 893.7,576.0 912.4,565.0 931.1,576.0 949.8,576.0 968.4,576.0 987.1,576.0 1005.8,462.2 1024.5,316.0 1043.2,576.0 1061.9,576.0 1080.6,576.0 1099.3,576.0 1118.0,576.0 1136.6,576.0 1155.3,576.0 1174.0,576.0 1192.7,576.0 1211.4,576.0 1230.1,576.0 1248.8,576.0 1267.5,576.0 1286.2,576.0 1304.8,576.0 1323.5,576.0 1342.2,576.0 1360.9,576.0 1379.6,559.7 1398.3,562.3 1417.0,576.0 1435.7,576.0 1454.4,576.0 1473.0,355.5 1491.7,576.0 1510.4,576.0 1529.1,576.0 1547.8,576.0 1566.5,576.0 1585.2,576.0 1603.9,576.0 1622.6,576.0 1641.2,576.0 1659.9,576.0 1678.6,576.0 1697.3,576.0 1716.0,576.0" fill="none" stroke="#4080ed" stroke-width="3" stroke-linejoin="miter" stroke-miterlimit="10"/></g></svg><div class="b" style="left:166px;top:1864px;width:24px;height:24px;background:#4080ed"></div><div class="t" style="left:196.7px;top:1864.3px;font-size:24px;color:#3d5480;letter-spacing:0.32px;-webkit-text-stroke:0.35px #3d5480;">bhavesh@truefoundry.com</div><div class="b" style="left:506px;top:1864px;width:24px;height:24px;background:#22b4d3"></div><div class="t" style="left:537.3px;top:1864.3px;font-size:24px;color:#3d5480;letter-spacing:0.35px;-webkit-text-stroke:0.35px #3d5480;">harshil@truefoundry.com</div><div class="b" style="left:828px;top:1864px;width:24px;height:24px;background:#f59447"></div><div class="t" style="left:858.7px;top:1864.3px;font-size:24px;color:#3d5480;letter-spacing:0.39px;-webkit-text-stroke:0.35px #3d5480;">pranjal@truefoundry.com</div><div class="b" style="left:1151px;top:1864px;width:24px;height:24px;background:#a58af0"></div><div class="t" style="left:1182.1px;top:1864.3px;font-size:24px;color:#3d5480;letter-spacing:0.52px;-webkit-text-stroke:0.35px #3d5480;">hrithik@truefoundry.com</div><div class="b" style="left:1469px;top:1864px;width:24px;height:24px;background:#e9b135"></div><div class="t" style="left:1500.7px;top:1864.3px;font-size:24px;color:#3d5480;letter-spacing:0.56px;-webkit-text-stroke:0.35px #3d5480;">llm-gateway-tester</div>
<div class="card" style="left:1982px;top:1202px;width:1818px;height:724px;border-radius:16px"></div><div class="t" style="left:2018px;top:1239.2px;font-size:34px;color:#000;letter-spacing:0.62px;-webkit-text-stroke:0.25px #000;transform:scaleX(1.09);transform-origin:0 0">Requests Per Second</div><div class="b" style="left:3672px;top:1220.3px;width:94px;height:63.4px;background:#eff6ff;border-radius:14px"></div><div class="t m" style="left:3677.6px;top:1233.9px;font-size:35px;color:#000;letter-spacing:-1.5px;transform:scaleX(1.1);transform-origin:0 0">1734</div><div class="t m" style="right:181px;top:1241.4px;font-size:24px;color:#4a6796;letter-spacing:0.05px">Total Requests</div><svg style="left:1982px;top:1203px" width="1818" height="722" viewBox="0 0 1818 722"><line x1="34.0" y1="576.0" x2="1739.5" y2="576.0" stroke="#f0f0f0" stroke-width="2"/><line x1="34.0" y1="514.2" x2="1739.5" y2="514.2" stroke="#f0f0f0" stroke-width="2"/><line x1="34.0" y1="452.3" x2="1739.5" y2="452.3" stroke="#f0f0f0" stroke-width="2"/><line x1="34.0" y1="390.5" x2="1739.5" y2="390.5" stroke="#f0f0f0" stroke-width="2"/><line x1="34.0" y1="328.7" x2="1739.5" y2="328.7" stroke="#f0f0f0" stroke-width="2"/><line x1="34.0" y1="266.8" x2="1739.5" y2="266.8" stroke="#f0f0f0" stroke-width="2"/><line x1="34.0" y1="205.0" x2="1739.5" y2="205.0" stroke="#f0f0f0" stroke-width="2"/><line x1="1723.5" y1="205.0" x2="1723.5" y2="576.0" stroke="#dedede" stroke-width="2"/><text x="1745.3" y="584.3" font-size="23.4" fill="#666">0</text><text x="1745.3" y="522.5" font-size="23.4" fill="#666">0.5</text><text x="1745.3" y="460.6" font-size="23.4" fill="#666">1</text><text x="1745.3" y="398.8" font-size="23.4" fill="#666">1.5</text><text x="1745.3" y="337.0" font-size="23.4" fill="#666">2</text><text x="1745.3" y="275.1" font-size="23.4" fill="#666">2.5</text><text x="1745.3" y="213.3" font-size="23.4" fill="#666">3</text><text x="409.4" y="620.5" font-size="23" fill="#666" text-anchor="middle">12:00</text><text x="972.6" y="620.5" font-size="23" fill="#666" text-anchor="middle">13:00</text><text x="1535.8" y="620.5" font-size="23" fill="#666" text-anchor="middle">14:00</text><clipPath id="cp_c4"><rect x="32.0" y="201.0" width="1693.0" height="375.3"/></clipPath><g clip-path="url(#cp_c4)"><polygon points="34.0,576.0 52.8,576.0 71.5,576.0 90.3,572.1 109.1,576.0 127.9,576.0 146.6,576.0 165.4,576.0 184.2,573.2 202.9,573.8 221.7,576.0 240.5,576.0 259.3,576.0 278.0,576.0 296.8,574.0 315.6,570.1 334.4,567.3 353.1,566.0 371.9,560.5 390.7,322.7 409.4,379.8 428.2,386.2 447.0,575.0 465.8,575.0 484.5,575.0 503.3,575.5 522.1,575.0 540.9,575.7 559.6,575.0 578.4,575.7 597.2,574.0 615.9,573.2 634.7,574.0 653.5,573.8 672.3,572.1 691.0,575.2 709.8,570.0 728.6,575.5 747.3,574.0 766.1,572.1 784.9,570.4 803.7,575.5 822.4,573.2 841.2,574.3 860.0,575.5 878.8,574.0 897.5,575.5 916.3,574.9 935.1,576.0 953.8,576.0 972.6,576.0 991.4,576.0 1010.2,570.4 1028.9,572.1 1047.7,430.1 1066.5,384.3 1085.2,576.0 1104.0,362.0 1122.8,512.6 1141.6,576.0 1160.3,576.0 1179.1,576.0 1197.9,576.0 1216.7,576.0 1235.4,576.0 1254.2,576.0 1273.0,576.0 1291.7,576.0 1310.5,576.0 1329.3,576.0 1348.1,576.0 1366.8,576.0 1385.6,566.6 1404.4,572.1 1423.1,576.0 1441.9,576.0 1460.7,576.0 1479.5,570.0 1498.2,576.0 1517.0,576.0 1535.8,576.0 1554.5,576.0 1573.3,576.0 1592.1,576.0 1610.9,570.0 1629.6,576.0 1648.4,573.5 1667.2,344.2 1686.0,461.0 1704.7,571.3 1723.5,551.0 1723.5,551.0 1704.7,571.3 1686.0,461.0 1667.2,344.2 1648.4,573.5 1629.6,576.0 1610.9,570.0 1592.1,576.0 1573.3,576.0 1554.5,576.0 1535.8,576.0 1517.0,576.0 1498.2,576.0 1479.5,570.0 1460.7,576.0 1441.9,576.0 1423.1,576.0 1404.4,572.1 1385.6,566.6 1366.8,576.0 1348.1,576.0 1329.3,576.0 1310.5,576.0 1291.7,576.0 1273.0,576.0 1254.2,576.0 1235.4,576.0 1216.7,576.0 1197.9,576.0 1179.1,576.0 1160.3,576.0 1141.6,576.0 1122.8,512.6 1104.0,362.0 1085.2,576.0 1066.5,384.3 1047.7,430.1 1028.9,572.1 1010.2,570.4 991.4,576.0 972.6,576.0 953.8,576.0 935.1,576.0 916.3,574.9 897.5,575.5 878.8,574.0 860.0,575.5 841.2,574.3 822.4,573.2 803.7,575.5 784.9,570.4 766.1,572.1 747.3,574.0 728.6,575.5 709.8,570.0 691.0,575.2 672.3,572.1 653.5,573.8 634.7,574.0 615.9,573.2 597.2,574.0 578.4,575.7 559.6,575.0 540.9,575.7 522.1,575.0 503.3,575.5 484.5,575.0 465.8,575.0 447.0,575.0 428.2,386.2 409.4,379.8 390.7,322.7 371.9,560.5 353.1,566.0 334.4,567.3 315.6,570.1 296.8,574.0 278.0,576.0 259.3,576.0 240.5,576.0 221.7,576.0 202.9,573.8 184.2,573.2 165.4,576.0 146.6,576.0 127.9,576.0 109.1,576.0 90.3,572.1 71.5,576.0 52.8,576.0 34.0,576.0" fill="#e9b135" fill-opacity="0.3" stroke="none"/><polygon points="34.0,576.0 52.8,576.0 71.5,576.0 90.3,572.1 109.1,576.0 127.9,576.0 146.6,576.0 165.4,576.0 184.2,573.2 202.9,573.8 221.7,576.0 240.5,576.0 259.3,576.0 278.0,576.0 296.8,574.0 315.6,570.1 334.4,567.3 353.1,566.0 371.9,560.5 390.7,322.7 409.4,379.8 428.2,386.2 447.0,575.0 465.8,575.0 484.5,575.0 503.3,575.5 522.1,575.0 540.9,575.7 559.6,575.0 578.4,575.7 597.2,574.0 615.9,573.2 634.7,574.0 653.5,573.8 672.3,572.1 691.0,575.2 709.8,570.0 728.6,575.5 747.3,574.0 766.1,572.1 784.9,570.4 803.7,575.5 822.4,573.2 841.2,574.3 860.0,575.5 878.8,574.0 897.5,575.5 916.3,574.9 935.1,576.0 953.8,576.0 972.6,576.0 991.4,576.0 1010.2,570.4 1028.9,572.1 1047.7,430.1 1066.5,384.3 1085.2,576.0 1104.0,362.0 1122.8,512.6 1141.6,576.0 1160.3,576.0 1179.1,576.0 1197.9,576.0 1216.7,576.0 1235.4,576.0 1254.2,576.0 1273.0,576.0 1291.7,576.0 1310.5,576.0 1329.3,576.0 1348.1,576.0 1366.8,576.0 1385.6,566.6 1404.4,572.1 1423.1,576.0 1441.9,576.0 1460.7,576.0 1479.5,570.0 1498.2,576.0 1517.0,576.0 1535.8,576.0 1554.5,576.0 1573.3,576.0 1592.1,576.0 1610.9,570.0 1629.6,576.0 1648.4,573.5 1667.2,344.2 1686.0,461.0 1704.7,571.3 1723.5,551.0 1723.5,576.0 1704.7,573.2 1686.0,572.1 1667.2,567.7 1648.4,573.5 1629.6,576.0 1610.9,570.0 1592.1,576.0 1573.3,576.0 1554.5,576.0 1535.8,576.0 1517.0,576.0 1498.2,576.0 1479.5,570.0 1460.7,576.0 1441.9,576.0 1423.1,576.0 1404.4,572.1 1385.6,566.6 1366.8,576.0 1348.1,576.0 1329.3,576.0 1310.5,576.0 1291.7,576.0 1273.0,576.0 1254.2,576.0 1235.4,576.0 1216.7,576.0 1197.9,576.0 1179.1,576.0 1160.3,576.0 1141.6,576.0 1122.8,576.0 1104.0,576.0 1085.2,576.0 1066.5,576.0 1047.7,576.0 1028.9,572.1 1010.2,570.4 991.4,576.0 972.6,576.0 953.8,576.0 935.1,576.0 916.3,574.9 897.5,575.5 878.8,574.0 860.0,575.5 841.2,574.3 822.4,573.2 803.7,575.5 784.9,570.4 766.1,572.1 747.3,574.0 728.6,575.5 709.8,570.0 691.0,575.2 672.3,572.1 653.5,573.8 634.7,574.0 615.9,573.2 597.2,574.0 578.4,575.7 559.6,575.0 540.9,575.7 522.1,575.0 503.3,575.5 484.5,575.0 465.8,575.0 447.0,575.0 428.2,574.5 409.4,574.0 390.7,561.0 371.9,560.5 353.1,566.0 334.4,567.3 315.6,570.1 296.8,574.0 278.0,576.0 259.3,576.0 240.5,576.0 221.7,576.0 202.9,573.8 184.2,573.2 165.4,576.0 146.6,576.0 127.9,576.0 109.1,576.0 90.3,572.1 71.5,576.0 52.8,576.0 34.0,576.0" fill="#a58af0" fill-opacity="0.3" stroke="none"/><polygon points="34.0,576.0 52.8,576.0 71.5,576.0 90.3,572.1 109.1,576.0 127.9,576.0 146.6,576.0 165.4,576.0 184.2,573.2 202.9,573.8 221.7,576.0 240.5,576.0 259.3,576.0 278.0,576.0 296.8,574.0 315.6,570.1 334.4,567.3 353.1,566.0 371.9,560.5 390.7,561.0 409.4,574.0 428.2,574.5 447.0,575.0 465.8,575.0 484.5,575.0 503.3,575.5 522.1,575.0 540.9,575.7 559.6,575.0 578.4,575.7 597.2,574.0 615.9,573.2 634.7,574.0 653.5,573.8 672.3,572.1 691.0,575.2 709.8,570.0 728.6,575.5 747.3,574.0 766.1,572.1 784.9,570.4 803.7,575.5 822.4,573.2 841.2,574.3 860.0,575.5 878.8,574.0 897.5,575.5 916.3,574.9 935.1,576.0 953.8,576.0 972.6,576.0 991.4,576.0 1010.2,570.4 1028.9,572.1 1047.7,576.0 1066.5,576.0 1085.2,576.0 1104.0,576.0 1122.8,576.0 1141.6,576.0 1160.3,576.0 1179.1,576.0 1197.9,576.0 1216.7,576.0 1235.4,576.0 1254.2,576.0 1273.0,576.0 1291.7,576.0 1310.5,576.0 1329.3,576.0 1348.1,576.0 1366.8,576.0 1385.6,566.6 1404.4,572.1 1423.1,576.0 1441.9,576.0 1460.7,576.0 1479.5,570.0 1498.2,576.0 1517.0,576.0 1535.8,576.0 1554.5,576.0 1573.3,576.0 1592.1,576.0 1610.9,570.0 1629.6,576.0 1648.4,573.5 1667.2,567.7 1686.0,572.1 1704.7,573.2 1723.5,576.0 1723.5,576.0 1704.7,573.2 1686.0,572.1 1667.2,567.7 1648.4,573.5 1629.6,576.0 1610.9,570.0 1592.1,576.0 1573.3,576.0 1554.5,576.0 1535.8,576.0 1517.0,576.0 1498.2,576.0 1479.5,570.0 1460.7,576.0 1441.9,576.0 1423.1,576.0 1404.4,572.1 1385.6,566.6 1366.8,576.0 1348.1,576.0 1329.3,576.0 1310.5,576.0 1291.7,576.0 1273.0,576.0 1254.2,576.0 1235.4,576.0 1216.7,576.0 1197.9,576.0 1179.1,576.0 1160.3,576.0 1141.6,576.0 1122.8,576.0 1104.0,576.0 1085.2,576.0 1066.5,576.0 1047.7,576.0 1028.9,572.1 1010.2,570.4 991.4,576.0 972.6,576.0 953.8,576.0 935.1,576.0 916.3,574.9 897.5,575.5 878.8,574.0 860.0,575.5 841.2,574.3 822.4,573.2 803.7,575.5 784.9,570.4 766.1,572.1 747.3,574.0 728.6,575.5 709.8,570.0 691.0,575.2 672.3,572.1 653.5,573.8 634.7,574.0 615.9,573.2 597.2,574.0 578.4,575.7 559.6,575.0 540.9,575.7 522.1,575.0 503.3,575.5 484.5,575.0 465.8,575.0 447.0,575.0 428.2,575.0 409.4,575.0 390.7,563.5 371.9,568.5 353.1,566.5 334.4,567.3 315.6,570.1 296.8,574.0 278.0,576.0 259.3,576.0 240.5,576.0 221.7,576.0 202.9,573.8 184.2,573.2 165.4,576.0 146.6,576.0 127.9,576.0 109.1,576.0 90.3,572.1 71.5,576.0 52.8,576.0 34.0,576.0" fill="#f59447" fill-opacity="0.3" stroke="none"/><polygon points="34.0,576.0 52.8,576.0 71.5,576.0 90.3,572.1 109.1,576.0 127.9,576.0 146.6,576.0 165.4,576.0 184.2,573.2 202.9,573.8 221.7,576.0 240.5,576.0 259.3,576.0 278.0,576.0 296.8,574.0 315.6,570.1 334.4,567.3 353.1,566.5 371.9,568.5 390.7,563.5 409.4,575.0 428.2,575.0 447.0,575.0 465.8,575.0 484.5,575.0 503.3,575.5 522.1,575.0 540.9,575.7 559.6,575.0 578.4,575.7 597.2,574.0 615.9,573.2 634.7,574.0 653.5,573.8 672.3,572.1 691.0,575.2 709.8,570.0 728.6,575.5 747.3,574.0 766.1,572.1 784.9,570.4 803.7,575.5 822.4,573.2 841.2,574.3 860.0,575.5 878.8,574.0 897.5,575.5 916.3,574.9 935.1,576.0 953.8,576.0 972.6,576.0 991.4,576.0 1010.2,570.4 1028.9,572.1 1047.7,576.0 1066.5,576.0 1085.2,576.0 1104.0,576.0 1122.8,576.0 1141.6,576.0 1160.3,576.0 1179.1,576.0 1197.9,576.0 1216.7,576.0 1235.4,576.0 1254.2,576.0 1273.0,576.0 1291.7,576.0 1310.5,576.0 1329.3,576.0 1348.1,576.0 1366.8,576.0 1385.6,566.6 1404.4,572.1 1423.1,576.0 1441.9,576.0 1460.7,576.0 1479.5,570.0 1498.2,576.0 1517.0,576.0 1535.8,576.0 1554.5,576.0 1573.3,576.0 1592.1,576.0 1610.9,570.0 1629.6,576.0 1648.4,573.5 1667.2,567.7 1686.0,572.1 1704.7,573.2 1723.5,576.0 1723.5,576.0 1704.7,576.0 1686.0,576.0 1667.2,575.0 1648.4,575.0 1629.6,576.0 1610.9,576.0 1592.1,576.0 1573.3,576.0 1554.5,576.0 1535.8,576.0 1517.0,576.0 1498.2,576.0 1479.5,570.0 1460.7,576.0 1441.9,576.0 1423.1,576.0 1404.4,572.1 1385.6,566.6 1366.8,576.0 1348.1,576.0 1329.3,576.0 1310.5,576.0 1291.7,576.0 1273.0,576.0 1254.2,576.0 1235.4,576.0 1216.7,576.0 1197.9,576.0 1179.1,576.0 1160.3,576.0 1141.6,576.0 1122.8,576.0 1104.0,576.0 1085.2,576.0 1066.5,576.0 1047.7,576.0 1028.9,572.1 1010.2,570.4 991.4,576.0 972.6,576.0 953.8,576.0 935.1,576.0 916.3,574.9 897.5,575.5 878.8,574.0 860.0,575.5 841.2,574.3 822.4,573.2 803.7,575.5 784.9,573.5 766.1,573.5 747.3,574.0 728.6,575.5 709.8,574.0 691.0,575.2 672.3,573.0 653.5,573.8 634.7,574.0 615.9,573.2 597.2,574.0 578.4,575.7 559.6,575.0 540.9,575.7 522.1,575.0 503.3,575.5 484.5,575.0 465.8,575.0 447.0,575.0 428.2,575.0 409.4,575.0 390.7,563.8 371.9,568.7 353.1,567.9 334.4,573.5 315.6,574.6 296.8,574.5 278.0,576.0 259.3,576.0 240.5,576.0 221.7,576.0 202.9,576.0 184.2,576.0 165.4,576.0 146.6,576.0 127.9,576.0 109.1,576.0 90.3,572.1 71.5,576.0 52.8,576.0 34.0,576.0" fill="#22b4d3" fill-opacity="0.3" stroke="none"/><polygon points="34.0,576.0 52.8,576.0 71.5,576.0 90.3,572.1 109.1,576.0 127.9,576.0 146.6,576.0 165.4,576.0 184.2,576.0 202.9,576.0 221.7,576.0 240.5,576.0 259.3,576.0 278.0,576.0 296.8,574.5 315.6,574.6 334.4,573.5 353.1,567.9 371.9,568.7 390.7,563.8 409.4,575.0 428.2,575.0 447.0,575.0 465.8,575.0 484.5,575.0 503.3,575.5 522.1,575.0 540.9,575.7 559.6,575.0 578.4,575.7 597.2,574.0 615.9,573.2 634.7,574.0 653.5,573.8 672.3,573.0 691.0,575.2 709.8,574.0 728.6,575.5 747.3,574.0 766.1,573.5 784.9,573.5 803.7,575.5 822.4,573.2 841.2,574.3 860.0,575.5 878.8,574.0 897.5,575.5 916.3,574.9 935.1,576.0 953.8,576.0 972.6,576.0 991.4,576.0 1010.2,570.4 1028.9,572.1 1047.7,576.0 1066.5,576.0 1085.2,576.0 1104.0,576.0 1122.8,576.0 1141.6,576.0 1160.3,576.0 1179.1,576.0 1197.9,576.0 1216.7,576.0 1235.4,576.0 1254.2,576.0 1273.0,576.0 1291.7,576.0 1310.5,576.0 1329.3,576.0 1348.1,576.0 1366.8,576.0 1385.6,566.6 1404.4,572.1 1423.1,576.0 1441.9,576.0 1460.7,576.0 1479.5,570.0 1498.2,576.0 1517.0,576.0 1535.8,576.0 1554.5,576.0 1573.3,576.0 1592.1,576.0 1610.9,576.0 1629.6,576.0 1648.4,575.0 1667.2,575.0 1686.0,576.0 1704.7,576.0 1723.5,576.0 1723.5,576.0 1704.7,576.0 1686.0,576.0 1667.2,576.0 1648.4,576.0 1629.6,576.0 1610.9,576.0 1592.1,576.0 1573.3,576.0 1554.5,576.0 1535.8,576.0 1517.0,576.0 1498.2,576.0 1479.5,576.0 1460.7,576.0 1441.9,576.0 1423.1,576.0 1404.4,576.0 1385.6,576.0 1366.8,576.0 1348.1,576.0 1329.3,576.0 1310.5,576.0 1291.7,576.0 1273.0,576.0 1254.2,576.0 1235.4,576.0 1216.7,576.0 1197.9,576.0 1179.1,576.0 1160.3,576.0 1141.6,576.0 1122.8,576.0 1104.0,576.0 1085.2,576.0 1066.5,576.0 1047.7,576.0 1028.9,576.0 1010.2,576.0 991.4,576.0 972.6,576.0 953.8,576.0 935.1,576.0 916.3,576.0 897.5,576.0 878.8,576.0 860.0,576.0 841.2,576.0 822.4,576.0 803.7,576.0 784.9,576.0 766.1,576.0 747.3,576.0 728.6,576.0 709.8,576.0 691.0,576.0 672.3,576.0 653.5,576.0 634.7,576.0 615.9,576.0 597.2,576.0 578.4,576.0 559.6,576.0 540.9,576.0 522.1,576.0 503.3,576.0 484.5,576.0 465.8,576.0 447.0,576.0 428.2,576.0 409.4,576.0 390.7,576.0 371.9,576.0 353.1,576.0 334.4,576.0 315.6,576.0 296.8,576.0 278.0,576.0 259.3,576.0 240.5,576.0 221.7,576.0 202.9,576.0 184.2,576.0 165.4,576.0 146.6,576.0 127.9,576.0 109.1,576.0 90.3,576.0 71.5,576.0 52.8,576.0 34.0,576.0" fill="#4080ed" fill-opacity="0.3" stroke="none"/><polyline points="34.0,576.0 52.8,576.0 71.5,576.0 90.3,572.1 109.1,576.0 127.9,576.0 146.6,576.0 165.4,576.0 184.2,573.2 202.9,573.8 221.7,576.0 240.5,576.0 259.3,576.0 278.0,576.0 296.8,574.0 315.6,570.1 334.4,567.3 353.1,566.0 371.9,560.5 390.7,322.7 409.4,379.8 428.2,386.2 447.0,575.0 465.8,575.0 484.5,575.0 503.3,575.5 522.1,575.0 540.9,575.7 559.6,575.0 578.4,575.7 597.2,574.0 615.9,573.2 634.7,574.0 653.5,573.8 672.3,572.1 691.0,575.2 709.8,570.0 728.6,575.5 747.3,574.0 766.1,572.1 784.9,570.4 803.7,575.5 822.4,573.2 841.2,574.3 860.0,575.5 878.8,574.0 897.5,575.5 916.3,574.9 935.1,576.0 953.8,576.0 972.6,576.0 991.4,576.0 1010.2,570.4 1028.9,572.1 1047.7,430.1 1066.5,384.3 1085.2,576.0 1104.0,362.0 1122.8,512.6 1141.6,576.0 1160.3,576.0 1179.1,576.0 1197.9,576.0 1216.7,576.0 1235.4,576.0 1254.2,576.0 1273.0,576.0 1291.7,576.0 1310.5,576.0 1329.3,576.0 1348.1,576.0 1366.8,576.0 1385.6,566.6 1404.4,572.1 1423.1,576.0 1441.9,576.0 1460.7,576.0 1479.5,570.0 1498.2,576.0 1517.0,576.0 1535.8,576.0 1554.5,576.0 1573.3,576.0 1592.1,576.0 1610.9,570.0 1629.6,576.0 1648.4,573.5 1667.2,344.2 1686.0,461.0 1704.7,571.3 1723.5,551.0" fill="none" stroke="#e9b135" stroke-width="3" stroke-linejoin="miter" stroke-miterlimit="10.4"/><polyline points="34.0,576.0 52.8,576.0 71.5,576.0 90.3,572.1 109.1,576.0 127.9,576.0 146.6,576.0 165.4,576.0 184.2,573.2 202.9,573.8 221.7,576.0 240.5,576.0 259.3,576.0 278.0,576.0 296.8,574.0 315.6,570.1 334.4,567.3 353.1,566.0 371.9,560.5 390.7,322.7 409.4,379.8 428.2,386.2 447.0,575.0 465.8,575.0 484.5,575.0 503.3,575.5 522.1,575.0 540.9,575.7 559.6,575.0 578.4,575.7 597.2,574.0 615.9,573.2 634.7,574.0 653.5,573.8 672.3,572.1 691.0,575.2 709.8,570.0 728.6,575.5 747.3,574.0 766.1,572.1 784.9,570.4 803.7,575.5 822.4,573.2 841.2,574.3 860.0,575.5 878.8,574.0 897.5,575.5 916.3,574.9 935.1,576.0 953.8,576.0 972.6,576.0 991.4,576.0 1010.2,570.4 1028.9,572.1 1047.7,430.1 1066.5,384.3 1085.2,576.0 1104.0,362.0 1122.8,512.6 1141.6,576.0 1160.3,576.0 1179.1,576.0 1197.9,576.0 1216.7,576.0 1235.4,576.0 1254.2,576.0 1273.0,576.0 1291.7,576.0 1310.5,576.0 1329.3,576.0 1348.1,576.0 1366.8,576.0 1385.6,566.6 1404.4,572.1 1423.1,576.0 1441.9,576.0 1460.7,576.0 1479.5,570.0 1498.2,576.0 1517.0,576.0 1535.8,576.0 1554.5,576.0 1573.3,576.0 1592.1,576.0 1610.9,570.0 1629.6,576.0 1648.4,573.5 1667.2,344.2 1686.0,461.0 1704.7,571.3 1723.5,551.0" fill="none" stroke="#a58af0" stroke-width="3" stroke-linejoin="miter" stroke-miterlimit="10.4"/><polyline points="34.0,576.0 52.8,576.0 71.5,576.0 90.3,572.1 109.1,576.0 127.9,576.0 146.6,576.0 165.4,576.0 184.2,573.2 202.9,573.8 221.7,576.0 240.5,576.0 259.3,576.0 278.0,576.0 296.8,574.0 315.6,570.1 334.4,567.3 353.1,566.0 371.9,560.5 390.7,561.0 409.4,574.0 428.2,574.5 447.0,575.0 465.8,575.0 484.5,575.0 503.3,575.5 522.1,575.0 540.9,575.7 559.6,575.0 578.4,575.7 597.2,574.0 615.9,573.2 634.7,574.0 653.5,573.8 672.3,572.1 691.0,575.2 709.8,570.0 728.6,575.5 747.3,574.0 766.1,572.1 784.9,570.4 803.7,575.5 822.4,573.2 841.2,574.3 860.0,575.5 878.8,574.0 897.5,575.5 916.3,574.9 935.1,576.0 953.8,576.0 972.6,576.0 991.4,576.0 1010.2,570.4 1028.9,572.1 1047.7,576.0 1066.5,576.0 1085.2,576.0 1104.0,576.0 1122.8,576.0 1141.6,576.0 1160.3,576.0 1179.1,576.0 1197.9,576.0 1216.7,576.0 1235.4,576.0 1254.2,576.0 1273.0,576.0 1291.7,576.0 1310.5,576.0 1329.3,576.0 1348.1,576.0 1366.8,576.0 1385.6,566.6 1404.4,572.1 1423.1,576.0 1441.9,576.0 1460.7,576.0 1479.5,570.0 1498.2,576.0 1517.0,576.0 1535.8,576.0 1554.5,576.0 1573.3,576.0 1592.1,576.0 1610.9,570.0 1629.6,576.0 1648.4,573.5 1667.2,567.7 1686.0,572.1 1704.7,573.2 1723.5,576.0" fill="none" stroke="#f59447" stroke-width="3" stroke-linejoin="miter" stroke-miterlimit="10.4"/><polyline points="34.0,576.0 52.8,576.0 71.5,576.0 90.3,572.1 109.1,576.0 127.9,576.0 146.6,576.0 165.4,576.0 184.2,573.2 202.9,573.8 221.7,576.0 240.5,576.0 259.3,576.0 278.0,576.0 296.8,574.0 315.6,570.1 334.4,567.3 353.1,566.5 371.9,568.5 390.7,563.5 409.4,575.0 428.2,575.0 447.0,575.0 465.8,575.0 484.5,575.0 503.3,575.5 522.1,575.0 540.9,575.7 559.6,575.0 578.4,575.7 597.2,574.0 615.9,573.2 634.7,574.0 653.5,573.8 672.3,572.1 691.0,575.2 709.8,570.0 728.6,575.5 747.3,574.0 766.1,572.1 784.9,570.4 803.7,575.5 822.4,573.2 841.2,574.3 860.0,575.5 878.8,574.0 897.5,575.5 916.3,574.9 935.1,576.0 953.8,576.0 972.6,576.0 991.4,576.0 1010.2,570.4 1028.9,572.1 1047.7,576.0 1066.5,576.0 1085.2,576.0 1104.0,576.0 1122.8,576.0 1141.6,576.0 1160.3,576.0 1179.1,576.0 1197.9,576.0 1216.7,576.0 1235.4,576.0 1254.2,576.0 1273.0,576.0 1291.7,576.0 1310.5,576.0 1329.3,576.0 1348.1,576.0 1366.8,576.0 1385.6,566.6 1404.4,572.1 1423.1,576.0 1441.9,576.0 1460.7,576.0 1479.5,570.0 1498.2,576.0 1517.0,576.0 1535.8,576.0 1554.5,576.0 1573.3,576.0 1592.1,576.0 1610.9,570.0 1629.6,576.0 1648.4,573.5 1667.2,567.7 1686.0,572.1 1704.7,573.2 1723.5,576.0" fill="none" stroke="#22b4d3" stroke-width="3" stroke-linejoin="miter" stroke-miterlimit="10.4"/><polyline points="34.0,576.0 52.8,576.0 71.5,576.0 90.3,572.1 109.1,576.0 127.9,576.0 146.6,576.0 165.4,576.0 184.2,576.0 202.9,576.0 221.7,576.0 240.5,576.0 259.3,576.0 278.0,576.0 296.8,574.5 315.6,574.6 334.4,573.5 353.1,567.9 371.9,568.7 390.7,563.8 409.4,575.0 428.2,575.0 447.0,575.0 465.8,575.0 484.5,575.0 503.3,575.5 522.1,575.0 540.9,575.7 559.6,575.0 578.4,575.7 597.2,574.0 615.9,573.2 634.7,574.0 653.5,573.8 672.3,573.0 691.0,575.2 709.8,574.0 728.6,575.5 747.3,574.0 766.1,573.5 784.9,573.5 803.7,575.5 822.4,573.2 841.2,574.3 860.0,575.5 878.8,574.0 897.5,575.5 916.3,574.9 935.1,576.0 953.8,576.0 972.6,576.0 991.4,576.0 1010.2,570.4 1028.9,572.1 1047.7,576.0 1066.5,576.0 1085.2,576.0 1104.0,576.0 1122.8,576.0 1141.6,576.0 1160.3,576.0 1179.1,576.0 1197.9,576.0 1216.7,576.0 1235.4,576.0 1254.2,576.0 1273.0,576.0 1291.7,576.0 1310.5,576.0 1329.3,576.0 1348.1,576.0 1366.8,576.0 1385.6,566.6 1404.4,572.1 1423.1,576.0 1441.9,576.0 1460.7,576.0 1479.5,570.0 1498.2,576.0 1517.0,576.0 1535.8,576.0 1554.5,576.0 1573.3,576.0 1592.1,576.0 1610.9,576.0 1629.6,576.0 1648.4,575.0 1667.2,575.0 1686.0,576.0 1704.7,576.0 1723.5,576.0" fill="none" stroke="#4080ed" stroke-width="3" stroke-linejoin="miter" stroke-miterlimit="10.4"/></g></svg><div class="b" style="left:2016px;top:1864px;width:24px;height:24px;background:#4080ed"></div><div class="t" style="left:2046.7px;top:1864.3px;font-size:24px;color:#3d5480;letter-spacing:0.32px;-webkit-text-stroke:0.35px #3d5480;">bhavesh@truefoundry.com</div><div class="b" style="left:2356px;top:1864px;width:24px;height:24px;background:#22b4d3"></div><div class="t" style="left:2387.3px;top:1864.3px;font-size:24px;color:#3d5480;letter-spacing:0.35px;-webkit-text-stroke:0.35px #3d5480;">harshil@truefoundry.com</div><div class="b" style="left:2678px;top:1864px;width:24px;height:24px;background:#f59447"></div><div class="t" style="left:2708.7px;top:1864.3px;font-size:24px;color:#3d5480;letter-spacing:0.39px;-webkit-text-stroke:0.35px #3d5480;">pranjal@truefoundry.com</div><div class="b" style="left:3001px;top:1864px;width:24px;height:24px;background:#a58af0"></div><div class="t" style="left:3032.1px;top:1864.3px;font-size:24px;color:#3d5480;letter-spacing:0.52px;-webkit-text-stroke:0.35px #3d5480;">hrithik@truefoundry.com</div><div class="b" style="left:3319px;top:1864px;width:24px;height:24px;background:#e9b135"></div><div class="t" style="left:3350.7px;top:1864.3px;font-size:24px;color:#3d5480;letter-spacing:0.56px;-webkit-text-stroke:0.35px #3d5480;">llm-gateway-tester</div>
<div class="card" style="left:132px;top:1958px;width:1818px;height:200px;border-radius:16px"></div>
<div class="card" style="left:1982px;top:1958px;width:1818px;height:200px;border-radius:16px"></div>
</body></html>
